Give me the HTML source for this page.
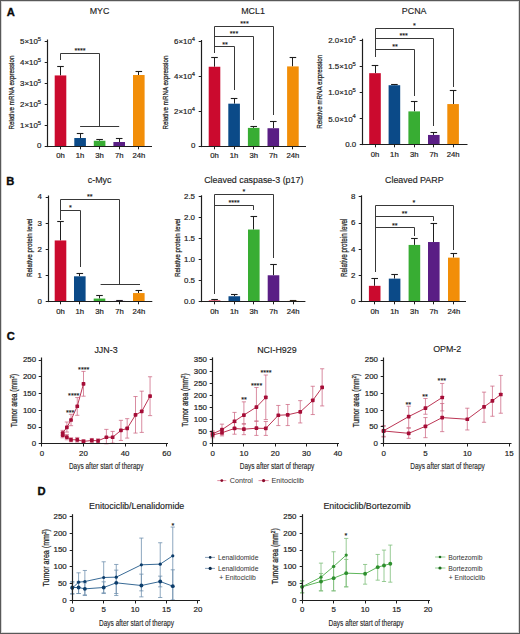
<!DOCTYPE html><html><head><meta charset="utf-8"><style>html,body{margin:0;padding:0;background:#fff;}svg{display:block;}</style></head><body>
<svg width="520" height="634" viewBox="0 0 520 634" font-family='"Liberation Sans", sans-serif'>
<rect x="0.00" y="0.00" width="520.00" height="634.00" fill="#ffffff"/>
<text x="6.70" y="15.80" font-size="11.2" text-anchor="start" fill="#0a0a0a" font-weight="bold"  stroke="#0a0a0a" stroke-width="0.35">A</text>
<text x="6.30" y="184.80" font-size="11.2" text-anchor="start" fill="#0a0a0a" font-weight="bold"  stroke="#0a0a0a" stroke-width="0.35">B</text>
<text x="6.80" y="339.80" font-size="11.2" text-anchor="start" fill="#0a0a0a" font-weight="bold"  stroke="#0a0a0a" stroke-width="0.35">C</text>
<text x="37.60" y="495.20" font-size="11.2" text-anchor="start" fill="#0a0a0a" font-weight="bold"  stroke="#0a0a0a" stroke-width="0.35">D</text>
<text x="99.50" y="14.30" font-size="8.9" text-anchor="middle" fill="#1e1e1e" font-weight="normal" stroke="#1e1e1e" stroke-width="0.15" >MYC</text>
<line x1="60.50" y1="66.20" x2="60.50" y2="75.44" stroke="#1e1e1e" stroke-width="1" />
<line x1="57.20" y1="66.50" x2="63.80" y2="66.50" stroke="#1e1e1e" stroke-width="1.1" />
<rect x="54.70" y="75.44" width="11.60" height="70.56" fill="#cb0a2e"/>
<line x1="80.50" y1="133.19" x2="80.50" y2="138.02" stroke="#1e1e1e" stroke-width="1" />
<line x1="76.80" y1="133.50" x2="83.40" y2="133.50" stroke="#1e1e1e" stroke-width="1.1" />
<rect x="74.30" y="138.02" width="11.60" height="7.98" fill="#0b4a88"/>
<line x1="99.50" y1="139.28" x2="99.50" y2="140.75" stroke="#1e1e1e" stroke-width="1" />
<line x1="96.30" y1="139.50" x2="102.90" y2="139.50" stroke="#1e1e1e" stroke-width="1.1" />
<rect x="93.80" y="140.75" width="11.60" height="5.25" fill="#38ad33"/>
<line x1="119.50" y1="138.23" x2="119.50" y2="142.01" stroke="#1e1e1e" stroke-width="1" />
<line x1="115.90" y1="138.50" x2="122.50" y2="138.50" stroke="#1e1e1e" stroke-width="1.1" />
<rect x="113.40" y="142.01" width="11.60" height="3.99" fill="#5a1e85"/>
<line x1="138.50" y1="71.66" x2="138.50" y2="75.02" stroke="#1e1e1e" stroke-width="1" />
<line x1="135.50" y1="71.50" x2="142.10" y2="71.50" stroke="#1e1e1e" stroke-width="1.1" />
<rect x="133.00" y="75.02" width="11.60" height="70.98" fill="#f28e08"/>
<line x1="47.50" y1="39.50" x2="47.50" y2="147.10" stroke="#1e1e1e" stroke-width="1.2" />
<line x1="46.90" y1="146.50" x2="152.00" y2="146.50" stroke="#1e1e1e" stroke-width="1.2" />
<line x1="44.70" y1="146.50" x2="47.50" y2="146.50" stroke="#1e1e1e" stroke-width="1" />
<text x="41.50" y="148.40" font-size="7.9" text-anchor="end" fill="#1e1e1e" font-weight="normal" stroke="#1e1e1e" stroke-width="0.2" >0</text>
<line x1="44.70" y1="125.50" x2="47.50" y2="125.50" stroke="#1e1e1e" stroke-width="1" />
<text x="41.10" y="127.80" font-size="7.9" text-anchor="end" fill="#1e1e1e" stroke="#1e1e1e" stroke-width="0.2">1×10<tspan font-size="5.8" dy="-3.1">5</tspan></text>
<line x1="44.70" y1="104.50" x2="47.50" y2="104.50" stroke="#1e1e1e" stroke-width="1" />
<text x="41.10" y="106.80" font-size="7.9" text-anchor="end" fill="#1e1e1e" stroke="#1e1e1e" stroke-width="0.2">2×10<tspan font-size="5.8" dy="-3.1">5</tspan></text>
<line x1="44.70" y1="83.50" x2="47.50" y2="83.50" stroke="#1e1e1e" stroke-width="1" />
<text x="41.10" y="85.80" font-size="7.9" text-anchor="end" fill="#1e1e1e" stroke="#1e1e1e" stroke-width="0.2">3×10<tspan font-size="5.8" dy="-3.1">5</tspan></text>
<line x1="44.70" y1="62.50" x2="47.50" y2="62.50" stroke="#1e1e1e" stroke-width="1" />
<text x="41.10" y="64.80" font-size="7.9" text-anchor="end" fill="#1e1e1e" stroke="#1e1e1e" stroke-width="0.2">4×10<tspan font-size="5.8" dy="-3.1">5</tspan></text>
<line x1="44.70" y1="41.50" x2="47.50" y2="41.50" stroke="#1e1e1e" stroke-width="1" />
<text x="41.10" y="43.80" font-size="7.9" text-anchor="end" fill="#1e1e1e" stroke="#1e1e1e" stroke-width="0.2">5×10<tspan font-size="5.8" dy="-3.1">5</tspan></text>
<line x1="60.50" y1="146.50" x2="60.50" y2="149.30" stroke="#1e1e1e" stroke-width="1" />
<text x="60.50" y="158.30" font-size="7.7" text-anchor="middle" fill="#1e1e1e" font-weight="normal" stroke="#1e1e1e" stroke-width="0.2" >0h</text>
<line x1="80.50" y1="146.50" x2="80.50" y2="149.30" stroke="#1e1e1e" stroke-width="1" />
<text x="80.10" y="158.30" font-size="7.7" text-anchor="middle" fill="#1e1e1e" font-weight="normal" stroke="#1e1e1e" stroke-width="0.2" >1h</text>
<line x1="99.50" y1="146.50" x2="99.50" y2="149.30" stroke="#1e1e1e" stroke-width="1" />
<text x="99.60" y="158.30" font-size="7.7" text-anchor="middle" fill="#1e1e1e" font-weight="normal" stroke="#1e1e1e" stroke-width="0.2" >3h</text>
<line x1="119.50" y1="146.50" x2="119.50" y2="149.30" stroke="#1e1e1e" stroke-width="1" />
<text x="119.20" y="158.30" font-size="7.7" text-anchor="middle" fill="#1e1e1e" font-weight="normal" stroke="#1e1e1e" stroke-width="0.2" >7h</text>
<line x1="138.50" y1="146.50" x2="138.50" y2="149.30" stroke="#1e1e1e" stroke-width="1" />
<text x="138.80" y="158.30" font-size="7.7" text-anchor="middle" fill="#1e1e1e" font-weight="normal" stroke="#1e1e1e" stroke-width="0.2" >24h</text>
<text transform="translate(14.40,92.50) rotate(-90)" x="0" y="0" font-size="8.1" text-anchor="middle" fill="#1e1e1e" stroke="#1e1e1e" stroke-width="0.25" textLength="73.8" lengthAdjust="spacingAndGlyphs">Relative mRNA expression</text>
<polyline points="60.50,59.50 60.50,53.50 99.50,53.50 99.50,126.50" fill="none" stroke="#383838" stroke-width="1.0" stroke-linejoin="miter" stroke-linecap="square"/>
<line x1="80.10" y1="126.50" x2="119.20" y2="126.50" stroke="#383838" stroke-width="1.0" />
<text x="80.00" y="53.00" font-size="7.2" text-anchor="middle" fill="#111" font-weight="normal"  stroke="#111" stroke-width="0.12">****</text>
<text x="253.00" y="14.30" font-size="8.9" text-anchor="middle" fill="#1e1e1e" font-weight="normal" stroke="#1e1e1e" stroke-width="0.15" >MCL1</text>
<line x1="214.50" y1="57.70" x2="214.50" y2="66.75" stroke="#1e1e1e" stroke-width="1" />
<line x1="211.20" y1="57.50" x2="217.80" y2="57.50" stroke="#1e1e1e" stroke-width="1.1" />
<rect x="208.70" y="66.75" width="11.60" height="79.25" fill="#cb0a2e"/>
<line x1="234.50" y1="98.45" x2="234.50" y2="103.68" stroke="#1e1e1e" stroke-width="1" />
<line x1="230.80" y1="98.50" x2="237.40" y2="98.50" stroke="#1e1e1e" stroke-width="1.1" />
<rect x="228.30" y="103.68" width="11.60" height="42.32" fill="#0b4a88"/>
<line x1="253.50" y1="126.49" x2="253.50" y2="127.89" stroke="#1e1e1e" stroke-width="1" />
<line x1="250.40" y1="126.50" x2="257.00" y2="126.50" stroke="#1e1e1e" stroke-width="1.1" />
<rect x="247.90" y="127.89" width="11.60" height="18.11" fill="#38ad33"/>
<line x1="273.50" y1="121.27" x2="273.50" y2="128.24" stroke="#1e1e1e" stroke-width="1" />
<line x1="270.00" y1="121.50" x2="276.60" y2="121.50" stroke="#1e1e1e" stroke-width="1.1" />
<rect x="267.50" y="128.24" width="11.60" height="17.77" fill="#5a1e85"/>
<line x1="292.50" y1="57.70" x2="292.50" y2="66.41" stroke="#1e1e1e" stroke-width="1" />
<line x1="289.60" y1="57.50" x2="296.20" y2="57.50" stroke="#1e1e1e" stroke-width="1.1" />
<rect x="287.10" y="66.41" width="11.60" height="79.59" fill="#f28e08"/>
<line x1="201.50" y1="40.00" x2="201.50" y2="147.10" stroke="#1e1e1e" stroke-width="1.2" />
<line x1="200.90" y1="146.50" x2="306.00" y2="146.50" stroke="#1e1e1e" stroke-width="1.2" />
<line x1="198.70" y1="146.50" x2="201.50" y2="146.50" stroke="#1e1e1e" stroke-width="1" />
<text x="195.50" y="148.40" font-size="7.9" text-anchor="end" fill="#1e1e1e" font-weight="normal" stroke="#1e1e1e" stroke-width="0.2" >0</text>
<line x1="198.70" y1="111.50" x2="201.50" y2="111.50" stroke="#1e1e1e" stroke-width="1" />
<text x="195.10" y="113.97" font-size="7.9" text-anchor="end" fill="#1e1e1e" stroke="#1e1e1e" stroke-width="0.2">2×10<tspan font-size="5.8" dy="-3.1">4</tspan></text>
<line x1="198.70" y1="76.50" x2="201.50" y2="76.50" stroke="#1e1e1e" stroke-width="1" />
<text x="195.10" y="79.13" font-size="7.9" text-anchor="end" fill="#1e1e1e" stroke="#1e1e1e" stroke-width="0.2">4×10<tspan font-size="5.8" dy="-3.1">4</tspan></text>
<line x1="198.70" y1="41.50" x2="201.50" y2="41.50" stroke="#1e1e1e" stroke-width="1" />
<text x="195.10" y="44.30" font-size="7.9" text-anchor="end" fill="#1e1e1e" stroke="#1e1e1e" stroke-width="0.2">6×10<tspan font-size="5.8" dy="-3.1">4</tspan></text>
<line x1="214.50" y1="146.50" x2="214.50" y2="149.30" stroke="#1e1e1e" stroke-width="1" />
<text x="214.50" y="158.30" font-size="7.7" text-anchor="middle" fill="#1e1e1e" font-weight="normal" stroke="#1e1e1e" stroke-width="0.2" >0h</text>
<line x1="234.50" y1="146.50" x2="234.50" y2="149.30" stroke="#1e1e1e" stroke-width="1" />
<text x="234.10" y="158.30" font-size="7.7" text-anchor="middle" fill="#1e1e1e" font-weight="normal" stroke="#1e1e1e" stroke-width="0.2" >1h</text>
<line x1="253.50" y1="146.50" x2="253.50" y2="149.30" stroke="#1e1e1e" stroke-width="1" />
<text x="253.70" y="158.30" font-size="7.7" text-anchor="middle" fill="#1e1e1e" font-weight="normal" stroke="#1e1e1e" stroke-width="0.2" >3h</text>
<line x1="273.50" y1="146.50" x2="273.50" y2="149.30" stroke="#1e1e1e" stroke-width="1" />
<text x="273.30" y="158.30" font-size="7.7" text-anchor="middle" fill="#1e1e1e" font-weight="normal" stroke="#1e1e1e" stroke-width="0.2" >7h</text>
<line x1="292.50" y1="146.50" x2="292.50" y2="149.30" stroke="#1e1e1e" stroke-width="1" />
<text x="292.90" y="158.30" font-size="7.7" text-anchor="middle" fill="#1e1e1e" font-weight="normal" stroke="#1e1e1e" stroke-width="0.2" >24h</text>
<text transform="translate(168.10,92.50) rotate(-90)" x="0" y="0" font-size="8.1" text-anchor="middle" fill="#1e1e1e" stroke="#1e1e1e" stroke-width="0.25" textLength="73.8" lengthAdjust="spacingAndGlyphs">Relative mRNA expression</text>
<polyline points="214.50,52.50 214.50,26.50 273.50,26.50 273.50,114.50" fill="none" stroke="#383838" stroke-width="1.0" stroke-linejoin="miter" stroke-linecap="square"/>
<polyline points="214.50,36.50 253.50,36.50 253.50,119.50" fill="none" stroke="#383838" stroke-width="1.0" stroke-linejoin="miter" stroke-linecap="square"/>
<polyline points="214.50,46.50 234.50,46.50 234.50,89.50" fill="none" stroke="#383838" stroke-width="1.0" stroke-linejoin="miter" stroke-linecap="square"/>
<text x="225.00" y="46.50" font-size="7.2" text-anchor="middle" fill="#111" font-weight="normal"  stroke="#111" stroke-width="0.12">**</text>
<text x="234.00" y="36.00" font-size="7.2" text-anchor="middle" fill="#111" font-weight="normal"  stroke="#111" stroke-width="0.12">***</text>
<text x="244.50" y="26.20" font-size="7.2" text-anchor="middle" fill="#111" font-weight="normal"  stroke="#111" stroke-width="0.12">***</text>
<text x="414.20" y="14.30" font-size="8.9" text-anchor="middle" fill="#1e1e1e" font-weight="normal" stroke="#1e1e1e" stroke-width="0.15" >PCNA</text>
<line x1="375.50" y1="65.85" x2="375.50" y2="73.18" stroke="#1e1e1e" stroke-width="1" />
<line x1="371.70" y1="65.50" x2="378.30" y2="65.50" stroke="#1e1e1e" stroke-width="1.1" />
<rect x="369.20" y="73.18" width="11.60" height="71.72" fill="#cb0a2e"/>
<line x1="394.50" y1="84.70" x2="394.50" y2="85.22" stroke="#1e1e1e" stroke-width="1" />
<line x1="391.10" y1="84.50" x2="397.70" y2="84.50" stroke="#1e1e1e" stroke-width="1.1" />
<rect x="388.60" y="85.22" width="11.60" height="59.68" fill="#0b4a88"/>
<line x1="414.50" y1="101.45" x2="414.50" y2="111.40" stroke="#1e1e1e" stroke-width="1" />
<line x1="410.90" y1="101.50" x2="417.50" y2="101.50" stroke="#1e1e1e" stroke-width="1.1" />
<rect x="408.40" y="111.40" width="11.60" height="33.50" fill="#38ad33"/>
<line x1="433.50" y1="132.86" x2="433.50" y2="134.95" stroke="#1e1e1e" stroke-width="1" />
<line x1="430.50" y1="132.50" x2="437.10" y2="132.50" stroke="#1e1e1e" stroke-width="1.1" />
<rect x="428.00" y="134.95" width="11.60" height="9.95" fill="#5a1e85"/>
<line x1="453.50" y1="90.98" x2="453.50" y2="104.07" stroke="#1e1e1e" stroke-width="1" />
<line x1="449.80" y1="90.50" x2="456.40" y2="90.50" stroke="#1e1e1e" stroke-width="1.1" />
<rect x="447.30" y="104.07" width="11.60" height="40.83" fill="#f28e08"/>
<line x1="362.50" y1="38.70" x2="362.50" y2="145.10" stroke="#1e1e1e" stroke-width="1.2" />
<line x1="361.90" y1="144.50" x2="467.50" y2="144.50" stroke="#1e1e1e" stroke-width="1.2" />
<line x1="359.70" y1="144.50" x2="362.50" y2="144.50" stroke="#1e1e1e" stroke-width="1" />
<text x="356.20" y="147.30" font-size="7.9" text-anchor="end" fill="#1e1e1e" font-weight="normal" stroke="#1e1e1e" stroke-width="0.2" >0.0</text>
<line x1="359.70" y1="118.50" x2="362.50" y2="118.50" stroke="#1e1e1e" stroke-width="1" />
<text x="355.80" y="121.53" font-size="7.9" text-anchor="end" fill="#1e1e1e" stroke="#1e1e1e" stroke-width="0.2">5.0×10<tspan font-size="5.8" dy="-3.1">4</tspan></text>
<line x1="359.70" y1="92.50" x2="362.50" y2="92.50" stroke="#1e1e1e" stroke-width="1" />
<text x="355.80" y="95.35" font-size="7.9" text-anchor="end" fill="#1e1e1e" stroke="#1e1e1e" stroke-width="0.2">1.0×10<tspan font-size="5.8" dy="-3.1">5</tspan></text>
<line x1="359.70" y1="66.50" x2="362.50" y2="66.50" stroke="#1e1e1e" stroke-width="1" />
<text x="355.80" y="69.18" font-size="7.9" text-anchor="end" fill="#1e1e1e" stroke="#1e1e1e" stroke-width="0.2">1.5×10<tspan font-size="5.8" dy="-3.1">5</tspan></text>
<line x1="359.70" y1="40.50" x2="362.50" y2="40.50" stroke="#1e1e1e" stroke-width="1" />
<text x="355.80" y="43.00" font-size="7.9" text-anchor="end" fill="#1e1e1e" stroke="#1e1e1e" stroke-width="0.2">2.0×10<tspan font-size="5.8" dy="-3.1">5</tspan></text>
<line x1="375.50" y1="144.50" x2="375.50" y2="147.30" stroke="#1e1e1e" stroke-width="1" />
<text x="375.00" y="157.20" font-size="7.7" text-anchor="middle" fill="#1e1e1e" font-weight="normal" stroke="#1e1e1e" stroke-width="0.2" >0h</text>
<line x1="394.50" y1="144.50" x2="394.50" y2="147.30" stroke="#1e1e1e" stroke-width="1" />
<text x="394.40" y="157.20" font-size="7.7" text-anchor="middle" fill="#1e1e1e" font-weight="normal" stroke="#1e1e1e" stroke-width="0.2" >1h</text>
<line x1="414.50" y1="144.50" x2="414.50" y2="147.30" stroke="#1e1e1e" stroke-width="1" />
<text x="414.20" y="157.20" font-size="7.7" text-anchor="middle" fill="#1e1e1e" font-weight="normal" stroke="#1e1e1e" stroke-width="0.2" >3h</text>
<line x1="433.50" y1="144.50" x2="433.50" y2="147.30" stroke="#1e1e1e" stroke-width="1" />
<text x="433.80" y="157.20" font-size="7.7" text-anchor="middle" fill="#1e1e1e" font-weight="normal" stroke="#1e1e1e" stroke-width="0.2" >7h</text>
<line x1="453.50" y1="144.50" x2="453.50" y2="147.30" stroke="#1e1e1e" stroke-width="1" />
<text x="453.10" y="157.20" font-size="7.7" text-anchor="middle" fill="#1e1e1e" font-weight="normal" stroke="#1e1e1e" stroke-width="0.2" >24h</text>
<text transform="translate(322.20,91.80) rotate(-90)" x="0" y="0" font-size="8.1" text-anchor="middle" fill="#1e1e1e" stroke="#1e1e1e" stroke-width="0.25" textLength="74" lengthAdjust="spacingAndGlyphs">Relative mRNA expression</text>
<polyline points="375.50,56.50 375.50,28.50 453.50,28.50 453.50,86.50" fill="none" stroke="#383838" stroke-width="1.0" stroke-linejoin="miter" stroke-linecap="square"/>
<polyline points="375.50,38.50 433.50,38.50 433.50,125.50" fill="none" stroke="#383838" stroke-width="1.0" stroke-linejoin="miter" stroke-linecap="square"/>
<polyline points="375.50,49.50 414.50,49.50 414.50,95.50" fill="none" stroke="#383838" stroke-width="1.0" stroke-linejoin="miter" stroke-linecap="square"/>
<text x="395.00" y="49.00" font-size="7.2" text-anchor="middle" fill="#111" font-weight="normal"  stroke="#111" stroke-width="0.12">**</text>
<text x="403.70" y="37.90" font-size="7.2" text-anchor="middle" fill="#111" font-weight="normal"  stroke="#111" stroke-width="0.12">***</text>
<text x="414.50" y="27.70" font-size="7.2" text-anchor="middle" fill="#111" font-weight="normal"  stroke="#111" stroke-width="0.12">*</text>
<text x="99.60" y="183.00" font-size="8.9" text-anchor="middle" fill="#1e1e1e" font-weight="normal" stroke="#1e1e1e" stroke-width="0.15" >c-Myc</text>
<line x1="60.50" y1="221.60" x2="60.50" y2="240.45" stroke="#1e1e1e" stroke-width="1" />
<line x1="57.20" y1="221.50" x2="63.80" y2="221.50" stroke="#1e1e1e" stroke-width="1.1" />
<rect x="54.70" y="240.45" width="11.60" height="61.25" fill="#cb0a2e"/>
<line x1="79.50" y1="273.43" x2="79.50" y2="276.31" stroke="#1e1e1e" stroke-width="1" />
<line x1="76.50" y1="273.50" x2="83.10" y2="273.50" stroke="#1e1e1e" stroke-width="1.1" />
<rect x="74.00" y="276.31" width="11.60" height="25.39" fill="#0b4a88"/>
<line x1="99.50" y1="295.16" x2="99.50" y2="298.56" stroke="#1e1e1e" stroke-width="1" />
<line x1="96.20" y1="295.50" x2="102.80" y2="295.50" stroke="#1e1e1e" stroke-width="1.1" />
<rect x="93.70" y="298.56" width="11.60" height="3.14" fill="#38ad33"/>
<line x1="119.50" y1="300.39" x2="119.50" y2="301.18" stroke="#1e1e1e" stroke-width="1" />
<line x1="116.20" y1="300.50" x2="122.80" y2="300.50" stroke="#1e1e1e" stroke-width="1.1" />
<rect x="113.70" y="300.90" width="11.60" height="0.80" fill="#5a1e85"/>
<line x1="138.50" y1="290.71" x2="138.50" y2="293.06" stroke="#1e1e1e" stroke-width="1" />
<line x1="135.50" y1="290.50" x2="142.10" y2="290.50" stroke="#1e1e1e" stroke-width="1.1" />
<rect x="133.00" y="293.06" width="11.60" height="8.64" fill="#f28e08"/>
<line x1="48.50" y1="195.50" x2="48.50" y2="302.10" stroke="#1e1e1e" stroke-width="1.2" />
<line x1="47.90" y1="301.50" x2="152.30" y2="301.50" stroke="#1e1e1e" stroke-width="1.2" />
<line x1="45.70" y1="301.50" x2="48.50" y2="301.50" stroke="#1e1e1e" stroke-width="1" />
<text x="42.00" y="304.10" font-size="7.9" text-anchor="end" fill="#1e1e1e" font-weight="normal" stroke="#1e1e1e" stroke-width="0.2" >0</text>
<line x1="45.70" y1="275.50" x2="48.50" y2="275.50" stroke="#1e1e1e" stroke-width="1" />
<text x="42.00" y="277.92" font-size="7.9" text-anchor="end" fill="#1e1e1e" font-weight="normal" stroke="#1e1e1e" stroke-width="0.2" >1</text>
<line x1="45.70" y1="249.50" x2="48.50" y2="249.50" stroke="#1e1e1e" stroke-width="1" />
<text x="42.00" y="251.75" font-size="7.9" text-anchor="end" fill="#1e1e1e" font-weight="normal" stroke="#1e1e1e" stroke-width="0.2" >2</text>
<line x1="45.70" y1="223.50" x2="48.50" y2="223.50" stroke="#1e1e1e" stroke-width="1" />
<text x="42.00" y="225.58" font-size="7.9" text-anchor="end" fill="#1e1e1e" font-weight="normal" stroke="#1e1e1e" stroke-width="0.2" >3</text>
<line x1="45.70" y1="197.50" x2="48.50" y2="197.50" stroke="#1e1e1e" stroke-width="1" />
<text x="42.00" y="199.40" font-size="7.9" text-anchor="end" fill="#1e1e1e" font-weight="normal" stroke="#1e1e1e" stroke-width="0.2" >4</text>
<line x1="60.50" y1="301.50" x2="60.50" y2="304.30" stroke="#1e1e1e" stroke-width="1" />
<text x="60.50" y="314.00" font-size="7.7" text-anchor="middle" fill="#1e1e1e" font-weight="normal" stroke="#1e1e1e" stroke-width="0.2" >0h</text>
<line x1="79.50" y1="301.50" x2="79.50" y2="304.30" stroke="#1e1e1e" stroke-width="1" />
<text x="79.80" y="314.00" font-size="7.7" text-anchor="middle" fill="#1e1e1e" font-weight="normal" stroke="#1e1e1e" stroke-width="0.2" >1h</text>
<line x1="99.50" y1="301.50" x2="99.50" y2="304.30" stroke="#1e1e1e" stroke-width="1" />
<text x="99.50" y="314.00" font-size="7.7" text-anchor="middle" fill="#1e1e1e" font-weight="normal" stroke="#1e1e1e" stroke-width="0.2" >3h</text>
<line x1="119.50" y1="301.50" x2="119.50" y2="304.30" stroke="#1e1e1e" stroke-width="1" />
<text x="119.50" y="314.00" font-size="7.7" text-anchor="middle" fill="#1e1e1e" font-weight="normal" stroke="#1e1e1e" stroke-width="0.2" >7h</text>
<line x1="138.50" y1="301.50" x2="138.50" y2="304.30" stroke="#1e1e1e" stroke-width="1" />
<text x="138.80" y="314.00" font-size="7.7" text-anchor="middle" fill="#1e1e1e" font-weight="normal" stroke="#1e1e1e" stroke-width="0.2" >24h</text>
<text transform="translate(32.20,247.80) rotate(-90)" x="0" y="0" font-size="7.9" text-anchor="middle" fill="#1e1e1e" stroke="#1e1e1e" stroke-width="0.25" textLength="58.5" lengthAdjust="spacingAndGlyphs">Relative protein level</text>
<polyline points="60.50,219.50 60.50,199.50 119.50,199.50 119.50,284.50" fill="none" stroke="#383838" stroke-width="1.0" stroke-linejoin="miter" stroke-linecap="square"/>
<line x1="100.60" y1="284.50" x2="140.00" y2="284.50" stroke="#383838" stroke-width="1.0" />
<polyline points="60.50,210.50 80.50,210.50 80.50,266.50" fill="none" stroke="#383838" stroke-width="1.0" stroke-linejoin="miter" stroke-linecap="square"/>
<text x="89.80" y="199.00" font-size="7.2" text-anchor="middle" fill="#111" font-weight="normal"  stroke="#111" stroke-width="0.12">**</text>
<text x="70.50" y="210.30" font-size="7.2" text-anchor="middle" fill="#111" font-weight="normal"  stroke="#111" stroke-width="0.12">*</text>
<text x="253.80" y="183.10" font-size="8.9" text-anchor="middle" fill="#1e1e1e" font-weight="normal" stroke="#1e1e1e" stroke-width="0.15" >Cleaved caspase-3 (p17)</text>
<line x1="214.50" y1="299.60" x2="214.50" y2="300.44" stroke="#1e1e1e" stroke-width="1" />
<line x1="211.30" y1="299.50" x2="217.90" y2="299.50" stroke="#1e1e1e" stroke-width="1.1" />
<rect x="208.80" y="300.44" width="11.60" height="1.26" fill="#cb0a2e"/>
<line x1="234.50" y1="294.57" x2="234.50" y2="296.25" stroke="#1e1e1e" stroke-width="1" />
<line x1="231.00" y1="294.50" x2="237.60" y2="294.50" stroke="#1e1e1e" stroke-width="1.1" />
<rect x="228.50" y="296.25" width="11.60" height="5.45" fill="#0b4a88"/>
<line x1="253.50" y1="216.52" x2="253.50" y2="229.53" stroke="#1e1e1e" stroke-width="1" />
<line x1="250.50" y1="216.50" x2="257.10" y2="216.50" stroke="#1e1e1e" stroke-width="1.1" />
<rect x="248.00" y="229.53" width="11.60" height="72.17" fill="#38ad33"/>
<line x1="273.50" y1="264.78" x2="273.50" y2="275.27" stroke="#1e1e1e" stroke-width="1" />
<line x1="270.20" y1="264.50" x2="276.80" y2="264.50" stroke="#1e1e1e" stroke-width="1.1" />
<rect x="267.70" y="275.27" width="11.60" height="26.43" fill="#5a1e85"/>
<line x1="293.50" y1="300.86" x2="293.50" y2="301.28" stroke="#1e1e1e" stroke-width="1" />
<line x1="289.80" y1="300.50" x2="296.40" y2="300.50" stroke="#1e1e1e" stroke-width="1.1" />
<rect x="287.30" y="300.90" width="11.60" height="0.80" fill="#f28e08"/>
<line x1="201.50" y1="195.30" x2="201.50" y2="302.10" stroke="#1e1e1e" stroke-width="1.2" />
<line x1="200.90" y1="301.50" x2="305.40" y2="301.50" stroke="#1e1e1e" stroke-width="1.2" />
<line x1="198.70" y1="301.50" x2="201.50" y2="301.50" stroke="#1e1e1e" stroke-width="1" />
<text x="195.00" y="304.10" font-size="7.9" text-anchor="end" fill="#1e1e1e" font-weight="normal" stroke="#1e1e1e" stroke-width="0.2" >0.0</text>
<line x1="198.70" y1="280.50" x2="201.50" y2="280.50" stroke="#1e1e1e" stroke-width="1" />
<text x="195.00" y="283.12" font-size="7.9" text-anchor="end" fill="#1e1e1e" font-weight="normal" stroke="#1e1e1e" stroke-width="0.2" >0.5</text>
<line x1="198.70" y1="259.50" x2="201.50" y2="259.50" stroke="#1e1e1e" stroke-width="1" />
<text x="195.00" y="262.14" font-size="7.9" text-anchor="end" fill="#1e1e1e" font-weight="normal" stroke="#1e1e1e" stroke-width="0.2" >1.0</text>
<line x1="198.70" y1="238.50" x2="201.50" y2="238.50" stroke="#1e1e1e" stroke-width="1" />
<text x="195.00" y="241.16" font-size="7.9" text-anchor="end" fill="#1e1e1e" font-weight="normal" stroke="#1e1e1e" stroke-width="0.2" >1.5</text>
<line x1="198.70" y1="217.50" x2="201.50" y2="217.50" stroke="#1e1e1e" stroke-width="1" />
<text x="195.00" y="220.18" font-size="7.9" text-anchor="end" fill="#1e1e1e" font-weight="normal" stroke="#1e1e1e" stroke-width="0.2" >2.0</text>
<line x1="198.70" y1="196.50" x2="201.50" y2="196.50" stroke="#1e1e1e" stroke-width="1" />
<text x="195.00" y="199.20" font-size="7.9" text-anchor="end" fill="#1e1e1e" font-weight="normal" stroke="#1e1e1e" stroke-width="0.2" >2.5</text>
<line x1="214.50" y1="301.50" x2="214.50" y2="304.30" stroke="#1e1e1e" stroke-width="1" />
<text x="214.60" y="314.00" font-size="7.7" text-anchor="middle" fill="#1e1e1e" font-weight="normal" stroke="#1e1e1e" stroke-width="0.2" >0h</text>
<line x1="234.50" y1="301.50" x2="234.50" y2="304.30" stroke="#1e1e1e" stroke-width="1" />
<text x="234.30" y="314.00" font-size="7.7" text-anchor="middle" fill="#1e1e1e" font-weight="normal" stroke="#1e1e1e" stroke-width="0.2" >1h</text>
<line x1="253.50" y1="301.50" x2="253.50" y2="304.30" stroke="#1e1e1e" stroke-width="1" />
<text x="253.80" y="314.00" font-size="7.7" text-anchor="middle" fill="#1e1e1e" font-weight="normal" stroke="#1e1e1e" stroke-width="0.2" >3h</text>
<line x1="273.50" y1="301.50" x2="273.50" y2="304.30" stroke="#1e1e1e" stroke-width="1" />
<text x="273.50" y="314.00" font-size="7.7" text-anchor="middle" fill="#1e1e1e" font-weight="normal" stroke="#1e1e1e" stroke-width="0.2" >7h</text>
<line x1="293.50" y1="301.50" x2="293.50" y2="304.30" stroke="#1e1e1e" stroke-width="1" />
<text x="293.10" y="314.00" font-size="7.7" text-anchor="middle" fill="#1e1e1e" font-weight="normal" stroke="#1e1e1e" stroke-width="0.2" >24h</text>
<text transform="translate(180.00,247.80) rotate(-90)" x="0" y="0" font-size="7.9" text-anchor="middle" fill="#1e1e1e" stroke="#1e1e1e" stroke-width="0.25" textLength="58.5" lengthAdjust="spacingAndGlyphs">Relative protein level</text>
<polyline points="214.50,293.50 214.50,194.50 273.50,194.50 273.50,257.50" fill="none" stroke="#383838" stroke-width="1.0" stroke-linejoin="miter" stroke-linecap="square"/>
<polyline points="214.50,205.50 253.50,205.50 253.50,209.50" fill="none" stroke="#383838" stroke-width="1.0" stroke-linejoin="miter" stroke-linecap="square"/>
<text x="243.80" y="194.30" font-size="7.2" text-anchor="middle" fill="#111" font-weight="normal"  stroke="#111" stroke-width="0.12">*</text>
<text x="234.00" y="204.60" font-size="7.2" text-anchor="middle" fill="#111" font-weight="normal"  stroke="#111" stroke-width="0.12">****</text>
<text x="414.30" y="183.10" font-size="8.9" text-anchor="middle" fill="#1e1e1e" font-weight="normal" stroke="#1e1e1e" stroke-width="0.15" >Cleaved PARP</text>
<line x1="374.50" y1="278.49" x2="374.50" y2="285.83" stroke="#1e1e1e" stroke-width="1" />
<line x1="371.40" y1="278.50" x2="378.00" y2="278.50" stroke="#1e1e1e" stroke-width="1.1" />
<rect x="368.90" y="285.83" width="11.60" height="15.87" fill="#cb0a2e"/>
<line x1="394.50" y1="274.03" x2="394.50" y2="278.62" stroke="#1e1e1e" stroke-width="1" />
<line x1="391.30" y1="274.50" x2="397.90" y2="274.50" stroke="#1e1e1e" stroke-width="1.1" />
<rect x="388.80" y="278.62" width="11.60" height="23.08" fill="#0b4a88"/>
<line x1="414.50" y1="238.37" x2="414.50" y2="244.92" stroke="#1e1e1e" stroke-width="1" />
<line x1="411.10" y1="238.50" x2="417.70" y2="238.50" stroke="#1e1e1e" stroke-width="1.1" />
<rect x="408.60" y="244.92" width="11.60" height="56.78" fill="#38ad33"/>
<line x1="433.50" y1="223.55" x2="433.50" y2="242.04" stroke="#1e1e1e" stroke-width="1" />
<line x1="430.50" y1="223.50" x2="437.10" y2="223.50" stroke="#1e1e1e" stroke-width="1.1" />
<rect x="428.00" y="242.04" width="11.60" height="59.66" fill="#5a1e85"/>
<line x1="453.50" y1="253.84" x2="453.50" y2="257.64" stroke="#1e1e1e" stroke-width="1" />
<line x1="450.50" y1="253.50" x2="457.10" y2="253.50" stroke="#1e1e1e" stroke-width="1.1" />
<rect x="448.00" y="257.64" width="11.60" height="44.06" fill="#f28e08"/>
<line x1="361.50" y1="195.30" x2="361.50" y2="302.10" stroke="#1e1e1e" stroke-width="1.2" />
<line x1="360.90" y1="301.50" x2="466.00" y2="301.50" stroke="#1e1e1e" stroke-width="1.2" />
<line x1="358.70" y1="301.50" x2="361.50" y2="301.50" stroke="#1e1e1e" stroke-width="1" />
<text x="355.50" y="304.10" font-size="7.9" text-anchor="end" fill="#1e1e1e" font-weight="normal" stroke="#1e1e1e" stroke-width="0.2" >0</text>
<line x1="358.70" y1="275.50" x2="361.50" y2="275.50" stroke="#1e1e1e" stroke-width="1" />
<text x="355.50" y="277.88" font-size="7.9" text-anchor="end" fill="#1e1e1e" font-weight="normal" stroke="#1e1e1e" stroke-width="0.2" >2</text>
<line x1="358.70" y1="249.50" x2="361.50" y2="249.50" stroke="#1e1e1e" stroke-width="1" />
<text x="355.50" y="251.65" font-size="7.9" text-anchor="end" fill="#1e1e1e" font-weight="normal" stroke="#1e1e1e" stroke-width="0.2" >4</text>
<line x1="358.70" y1="223.50" x2="361.50" y2="223.50" stroke="#1e1e1e" stroke-width="1" />
<text x="355.50" y="225.43" font-size="7.9" text-anchor="end" fill="#1e1e1e" font-weight="normal" stroke="#1e1e1e" stroke-width="0.2" >6</text>
<line x1="358.70" y1="196.50" x2="361.50" y2="196.50" stroke="#1e1e1e" stroke-width="1" />
<text x="355.50" y="199.20" font-size="7.9" text-anchor="end" fill="#1e1e1e" font-weight="normal" stroke="#1e1e1e" stroke-width="0.2" >8</text>
<line x1="374.50" y1="301.50" x2="374.50" y2="304.30" stroke="#1e1e1e" stroke-width="1" />
<text x="374.70" y="314.00" font-size="7.7" text-anchor="middle" fill="#1e1e1e" font-weight="normal" stroke="#1e1e1e" stroke-width="0.2" >0h</text>
<line x1="394.50" y1="301.50" x2="394.50" y2="304.30" stroke="#1e1e1e" stroke-width="1" />
<text x="394.60" y="314.00" font-size="7.7" text-anchor="middle" fill="#1e1e1e" font-weight="normal" stroke="#1e1e1e" stroke-width="0.2" >1h</text>
<line x1="414.50" y1="301.50" x2="414.50" y2="304.30" stroke="#1e1e1e" stroke-width="1" />
<text x="414.40" y="314.00" font-size="7.7" text-anchor="middle" fill="#1e1e1e" font-weight="normal" stroke="#1e1e1e" stroke-width="0.2" >3h</text>
<line x1="433.50" y1="301.50" x2="433.50" y2="304.30" stroke="#1e1e1e" stroke-width="1" />
<text x="433.80" y="314.00" font-size="7.7" text-anchor="middle" fill="#1e1e1e" font-weight="normal" stroke="#1e1e1e" stroke-width="0.2" >7h</text>
<line x1="453.50" y1="301.50" x2="453.50" y2="304.30" stroke="#1e1e1e" stroke-width="1" />
<text x="453.80" y="314.00" font-size="7.7" text-anchor="middle" fill="#1e1e1e" font-weight="normal" stroke="#1e1e1e" stroke-width="0.2" >24h</text>
<text transform="translate(347.00,247.80) rotate(-90)" x="0" y="0" font-size="8.2" text-anchor="middle" fill="#1e1e1e" stroke="#1e1e1e" stroke-width="0.25" textLength="58.5" lengthAdjust="spacingAndGlyphs">Relative protein level</text>
<polyline points="375.50,271.50 375.50,205.50 453.50,205.50 453.50,249.50" fill="none" stroke="#383838" stroke-width="1.0" stroke-linejoin="miter" stroke-linecap="square"/>
<polyline points="375.50,216.50 433.50,216.50 433.50,220.50" fill="none" stroke="#383838" stroke-width="1.0" stroke-linejoin="miter" stroke-linecap="square"/>
<polyline points="375.50,227.50 414.50,227.50 414.50,235.50" fill="none" stroke="#383838" stroke-width="1.0" stroke-linejoin="miter" stroke-linecap="square"/>
<text x="413.80" y="205.40" font-size="7.2" text-anchor="middle" fill="#111" font-weight="normal"  stroke="#111" stroke-width="0.12">*</text>
<text x="404.60" y="216.40" font-size="7.2" text-anchor="middle" fill="#111" font-weight="normal"  stroke="#111" stroke-width="0.12">**</text>
<text x="394.80" y="227.50" font-size="7.2" text-anchor="middle" fill="#111" font-weight="normal"  stroke="#111" stroke-width="0.12">**</text>
<text x="106.00" y="352.50" font-size="8.9" text-anchor="middle" fill="#1e1e1e" font-weight="normal" stroke="#1e1e1e" stroke-width="0.15" >JJN-3</text>
<line x1="62.70" y1="430.39" x2="62.70" y2="435.76" stroke="#cc6682" stroke-width="0.75" />
<line x1="60.60" y1="430.39" x2="64.80" y2="430.39" stroke="#cc6682" stroke-width="0.75" />
<line x1="60.60" y1="435.76" x2="64.80" y2="435.76" stroke="#cc6682" stroke-width="0.75" />
<line x1="66.86" y1="422.01" x2="66.86" y2="432.07" stroke="#cc6682" stroke-width="0.75" />
<line x1="64.76" y1="422.01" x2="68.96" y2="422.01" stroke="#cc6682" stroke-width="0.75" />
<line x1="64.76" y1="432.07" x2="68.96" y2="432.07" stroke="#cc6682" stroke-width="0.75" />
<line x1="71.02" y1="414.30" x2="71.02" y2="425.70" stroke="#cc6682" stroke-width="0.75" />
<line x1="68.92" y1="414.30" x2="73.12" y2="414.30" stroke="#cc6682" stroke-width="0.75" />
<line x1="68.92" y1="425.70" x2="73.12" y2="425.70" stroke="#cc6682" stroke-width="0.75" />
<line x1="77.26" y1="397.54" x2="77.26" y2="415.31" stroke="#cc6682" stroke-width="0.75" />
<line x1="75.16" y1="397.54" x2="79.36" y2="397.54" stroke="#cc6682" stroke-width="0.75" />
<line x1="75.16" y1="415.31" x2="79.36" y2="415.31" stroke="#cc6682" stroke-width="0.75" />
<line x1="83.50" y1="371.40" x2="83.50" y2="396.20" stroke="#cc6682" stroke-width="0.75" />
<line x1="81.40" y1="371.40" x2="85.60" y2="371.40" stroke="#cc6682" stroke-width="0.75" />
<line x1="81.40" y1="396.20" x2="85.60" y2="396.20" stroke="#cc6682" stroke-width="0.75" />
<line x1="62.70" y1="432.40" x2="62.70" y2="437.77" stroke="#cc6682" stroke-width="0.75" />
<line x1="60.60" y1="432.40" x2="64.80" y2="432.40" stroke="#cc6682" stroke-width="0.75" />
<line x1="60.60" y1="437.77" x2="64.80" y2="437.77" stroke="#cc6682" stroke-width="0.75" />
<line x1="66.86" y1="434.41" x2="66.86" y2="439.78" stroke="#cc6682" stroke-width="0.75" />
<line x1="64.76" y1="434.41" x2="68.96" y2="434.41" stroke="#cc6682" stroke-width="0.75" />
<line x1="64.76" y1="439.78" x2="68.96" y2="439.78" stroke="#cc6682" stroke-width="0.75" />
<line x1="71.02" y1="437.77" x2="71.02" y2="441.79" stroke="#cc6682" stroke-width="0.75" />
<line x1="68.92" y1="437.77" x2="73.12" y2="437.77" stroke="#cc6682" stroke-width="0.75" />
<line x1="68.92" y1="441.79" x2="73.12" y2="441.79" stroke="#cc6682" stroke-width="0.75" />
<line x1="77.26" y1="437.43" x2="77.26" y2="442.12" stroke="#cc6682" stroke-width="0.75" />
<line x1="75.16" y1="437.43" x2="79.36" y2="437.43" stroke="#cc6682" stroke-width="0.75" />
<line x1="75.16" y1="442.12" x2="79.36" y2="442.12" stroke="#cc6682" stroke-width="0.75" />
<line x1="83.50" y1="439.78" x2="83.50" y2="443.13" stroke="#cc6682" stroke-width="0.75" />
<line x1="81.40" y1="439.78" x2="85.60" y2="439.78" stroke="#cc6682" stroke-width="0.75" />
<line x1="81.40" y1="443.13" x2="85.60" y2="443.13" stroke="#cc6682" stroke-width="0.75" />
<line x1="91.82" y1="438.44" x2="91.82" y2="442.46" stroke="#cc6682" stroke-width="0.75" />
<line x1="89.72" y1="438.44" x2="93.92" y2="438.44" stroke="#cc6682" stroke-width="0.75" />
<line x1="89.72" y1="442.46" x2="93.92" y2="442.46" stroke="#cc6682" stroke-width="0.75" />
<line x1="98.06" y1="438.77" x2="98.06" y2="442.79" stroke="#cc6682" stroke-width="0.75" />
<line x1="95.96" y1="438.77" x2="100.16" y2="438.77" stroke="#cc6682" stroke-width="0.75" />
<line x1="95.96" y1="442.79" x2="100.16" y2="442.79" stroke="#cc6682" stroke-width="0.75" />
<line x1="106.38" y1="429.39" x2="106.38" y2="443.80" stroke="#cc6682" stroke-width="0.75" />
<line x1="104.28" y1="429.39" x2="108.48" y2="429.39" stroke="#cc6682" stroke-width="0.75" />
<line x1="104.28" y1="443.80" x2="108.48" y2="443.80" stroke="#cc6682" stroke-width="0.75" />
<line x1="112.62" y1="431.40" x2="112.62" y2="443.13" stroke="#cc6682" stroke-width="0.75" />
<line x1="110.52" y1="431.40" x2="114.72" y2="431.40" stroke="#cc6682" stroke-width="0.75" />
<line x1="110.52" y1="443.13" x2="114.72" y2="443.13" stroke="#cc6682" stroke-width="0.75" />
<line x1="120.94" y1="420.34" x2="120.94" y2="440.45" stroke="#cc6682" stroke-width="0.75" />
<line x1="118.84" y1="420.34" x2="123.04" y2="420.34" stroke="#cc6682" stroke-width="0.75" />
<line x1="118.84" y1="440.45" x2="123.04" y2="440.45" stroke="#cc6682" stroke-width="0.75" />
<line x1="127.18" y1="418.66" x2="127.18" y2="438.10" stroke="#cc6682" stroke-width="0.75" />
<line x1="125.08" y1="418.66" x2="129.28" y2="418.66" stroke="#cc6682" stroke-width="0.75" />
<line x1="125.08" y1="438.10" x2="129.28" y2="438.10" stroke="#cc6682" stroke-width="0.75" />
<line x1="135.50" y1="396.54" x2="135.50" y2="433.07" stroke="#cc6682" stroke-width="0.75" />
<line x1="133.40" y1="396.54" x2="137.60" y2="396.54" stroke="#cc6682" stroke-width="0.75" />
<line x1="133.40" y1="433.07" x2="137.60" y2="433.07" stroke="#cc6682" stroke-width="0.75" />
<line x1="141.74" y1="391.17" x2="141.74" y2="432.40" stroke="#cc6682" stroke-width="0.75" />
<line x1="139.64" y1="391.17" x2="143.84" y2="391.17" stroke="#cc6682" stroke-width="0.75" />
<line x1="139.64" y1="432.40" x2="143.84" y2="432.40" stroke="#cc6682" stroke-width="0.75" />
<line x1="150.06" y1="376.76" x2="150.06" y2="415.64" stroke="#cc6682" stroke-width="0.75" />
<line x1="147.96" y1="376.76" x2="152.16" y2="376.76" stroke="#cc6682" stroke-width="0.75" />
<line x1="147.96" y1="415.64" x2="152.16" y2="415.64" stroke="#cc6682" stroke-width="0.75" />
<polyline points="62.70,433.07 66.86,427.38 71.02,420.00 77.26,406.26 83.50,383.80" fill="none" stroke="#bc3554" stroke-width="1.0" stroke-linejoin="miter" stroke-linecap="square"/>
<polyline points="62.70,435.08 66.86,437.10 71.02,439.78 77.26,439.78 83.50,441.45 91.82,440.45 98.06,440.78 106.38,437.26 112.62,437.26 120.94,430.39 127.18,428.38 135.50,414.97 141.74,411.45 150.06,396.20" fill="none" stroke="#bc3554" stroke-width="1.0" stroke-linejoin="miter" stroke-linecap="square"/>
<rect x="60.85" y="431.22" width="3.70" height="3.70" rx="0.7" fill="#a50d37"/>
<rect x="65.01" y="425.53" width="3.70" height="3.70" rx="0.7" fill="#a50d37"/>
<rect x="69.17" y="418.15" width="3.70" height="3.70" rx="0.7" fill="#a50d37"/>
<rect x="75.41" y="404.41" width="3.70" height="3.70" rx="0.7" fill="#a50d37"/>
<rect x="81.65" y="381.95" width="3.70" height="3.70" rx="0.7" fill="#a50d37"/>
<rect x="60.85" y="433.23" width="3.70" height="3.70" rx="0.7" fill="#a50d37"/>
<rect x="65.01" y="435.25" width="3.70" height="3.70" rx="0.7" fill="#a50d37"/>
<rect x="69.17" y="437.93" width="3.70" height="3.70" rx="0.7" fill="#a50d37"/>
<rect x="75.41" y="437.93" width="3.70" height="3.70" rx="0.7" fill="#a50d37"/>
<rect x="81.65" y="439.60" width="3.70" height="3.70" rx="0.7" fill="#a50d37"/>
<rect x="89.97" y="438.60" width="3.70" height="3.70" rx="0.7" fill="#a50d37"/>
<rect x="96.21" y="438.93" width="3.70" height="3.70" rx="0.7" fill="#a50d37"/>
<rect x="104.53" y="435.41" width="3.70" height="3.70" rx="0.7" fill="#a50d37"/>
<rect x="110.77" y="435.41" width="3.70" height="3.70" rx="0.7" fill="#a50d37"/>
<rect x="119.09" y="428.54" width="3.70" height="3.70" rx="0.7" fill="#a50d37"/>
<rect x="125.33" y="426.53" width="3.70" height="3.70" rx="0.7" fill="#a50d37"/>
<rect x="133.65" y="413.12" width="3.70" height="3.70" rx="0.7" fill="#a50d37"/>
<rect x="139.89" y="409.60" width="3.70" height="3.70" rx="0.7" fill="#a50d37"/>
<rect x="148.21" y="394.35" width="3.70" height="3.70" rx="0.7" fill="#a50d37"/>
<line x1="41.50" y1="357.50" x2="41.50" y2="444.10" stroke="#1e1e1e" stroke-width="1.2" />
<line x1="40.90" y1="443.50" x2="168.00" y2="443.50" stroke="#1e1e1e" stroke-width="1.2" />
<line x1="38.70" y1="443.50" x2="41.50" y2="443.50" stroke="#1e1e1e" stroke-width="1" />
<text x="36.10" y="446.10" font-size="7.9" text-anchor="end" fill="#1e1e1e" font-weight="normal" stroke="#1e1e1e" stroke-width="0.2" >0</text>
<line x1="38.70" y1="427.50" x2="41.50" y2="427.50" stroke="#1e1e1e" stroke-width="1" />
<text x="36.10" y="429.34" font-size="7.9" text-anchor="end" fill="#1e1e1e" font-weight="normal" stroke="#1e1e1e" stroke-width="0.2" >50</text>
<line x1="38.70" y1="410.50" x2="41.50" y2="410.50" stroke="#1e1e1e" stroke-width="1" />
<text x="36.10" y="412.58" font-size="7.9" text-anchor="end" fill="#1e1e1e" font-weight="normal" stroke="#1e1e1e" stroke-width="0.2" >100</text>
<line x1="38.70" y1="393.50" x2="41.50" y2="393.50" stroke="#1e1e1e" stroke-width="1" />
<text x="36.10" y="395.82" font-size="7.9" text-anchor="end" fill="#1e1e1e" font-weight="normal" stroke="#1e1e1e" stroke-width="0.2" >150</text>
<line x1="38.70" y1="376.50" x2="41.50" y2="376.50" stroke="#1e1e1e" stroke-width="1" />
<text x="36.10" y="379.06" font-size="7.9" text-anchor="end" fill="#1e1e1e" font-weight="normal" stroke="#1e1e1e" stroke-width="0.2" >200</text>
<line x1="38.70" y1="360.50" x2="41.50" y2="360.50" stroke="#1e1e1e" stroke-width="1" />
<text x="36.10" y="362.30" font-size="7.9" text-anchor="end" fill="#1e1e1e" font-weight="normal" stroke="#1e1e1e" stroke-width="0.2" >250</text>
<line x1="41.50" y1="443.50" x2="41.50" y2="446.50" stroke="#1e1e1e" stroke-width="1" />
<text x="41.90" y="456.00" font-size="7.9" text-anchor="middle" fill="#1e1e1e" font-weight="normal" stroke="#1e1e1e" stroke-width="0.2" >0</text>
<line x1="83.50" y1="443.50" x2="83.50" y2="446.50" stroke="#1e1e1e" stroke-width="1" />
<text x="83.50" y="456.00" font-size="7.9" text-anchor="middle" fill="#1e1e1e" font-weight="normal" stroke="#1e1e1e" stroke-width="0.2" >20</text>
<line x1="125.50" y1="443.50" x2="125.50" y2="446.50" stroke="#1e1e1e" stroke-width="1" />
<text x="125.10" y="456.00" font-size="7.9" text-anchor="middle" fill="#1e1e1e" font-weight="normal" stroke="#1e1e1e" stroke-width="0.2" >40</text>
<line x1="166.50" y1="443.50" x2="166.50" y2="446.50" stroke="#1e1e1e" stroke-width="1" />
<text x="166.70" y="456.00" font-size="7.9" text-anchor="middle" fill="#1e1e1e" font-weight="normal" stroke="#1e1e1e" stroke-width="0.2" >60</text>
<text transform="translate(17.20,400.60) rotate(-90)" font-size="8.4" text-anchor="middle" fill="#1e1e1e" stroke="#1e1e1e" stroke-width="0.25" textLength="53.5" lengthAdjust="spacingAndGlyphs">Tumor area (mm<tspan font-size="5.6" dy="-3">2</tspan><tspan dy="3">)</tspan></text>
<text x="106.20" y="469.20" font-size="8.6" text-anchor="middle" fill="#1e1e1e" stroke="#1e1e1e" stroke-width="0.12" textLength="74.5" lengthAdjust="spacingAndGlyphs">Days after start of therapy</text>
<text x="70.20" y="415.30" font-size="7.2" text-anchor="middle" fill="#111" font-weight="normal"  stroke="#111" stroke-width="0.12">***</text>
<text x="73.70" y="398.40" font-size="7.2" text-anchor="middle" fill="#111" font-weight="normal"  stroke="#111" stroke-width="0.12">****</text>
<text x="83.70" y="372.30" font-size="7.2" text-anchor="middle" fill="#111" font-weight="normal"  stroke="#111" stroke-width="0.12">****</text>
<text x="276.90" y="352.50" font-size="8.9" text-anchor="middle" fill="#1e1e1e" font-weight="normal" stroke="#1e1e1e" stroke-width="0.15" >NCI-H929</text>
<line x1="212.60" y1="430.86" x2="212.60" y2="436.61" stroke="#cc6682" stroke-width="0.75" />
<line x1="210.50" y1="430.86" x2="214.70" y2="430.86" stroke="#cc6682" stroke-width="0.75" />
<line x1="210.50" y1="436.61" x2="214.70" y2="436.61" stroke="#cc6682" stroke-width="0.75" />
<line x1="221.99" y1="424.14" x2="221.99" y2="434.69" stroke="#cc6682" stroke-width="0.75" />
<line x1="219.89" y1="424.14" x2="224.09" y2="424.14" stroke="#cc6682" stroke-width="0.75" />
<line x1="219.89" y1="434.69" x2="224.09" y2="434.69" stroke="#cc6682" stroke-width="0.75" />
<line x1="234.51" y1="412.40" x2="234.51" y2="429.42" stroke="#cc6682" stroke-width="0.75" />
<line x1="232.41" y1="412.40" x2="236.61" y2="412.40" stroke="#cc6682" stroke-width="0.75" />
<line x1="232.41" y1="429.42" x2="236.61" y2="429.42" stroke="#cc6682" stroke-width="0.75" />
<line x1="243.90" y1="401.85" x2="243.90" y2="424.14" stroke="#cc6682" stroke-width="0.75" />
<line x1="241.80" y1="401.85" x2="246.00" y2="401.85" stroke="#cc6682" stroke-width="0.75" />
<line x1="241.80" y1="424.14" x2="246.00" y2="424.14" stroke="#cc6682" stroke-width="0.75" />
<line x1="256.42" y1="387.47" x2="256.42" y2="421.27" stroke="#cc6682" stroke-width="0.75" />
<line x1="254.32" y1="387.47" x2="258.52" y2="387.47" stroke="#cc6682" stroke-width="0.75" />
<line x1="254.32" y1="421.27" x2="258.52" y2="421.27" stroke="#cc6682" stroke-width="0.75" />
<line x1="265.81" y1="375.00" x2="265.81" y2="419.59" stroke="#cc6682" stroke-width="0.75" />
<line x1="263.71" y1="375.00" x2="267.91" y2="375.00" stroke="#cc6682" stroke-width="0.75" />
<line x1="263.71" y1="419.59" x2="267.91" y2="419.59" stroke="#cc6682" stroke-width="0.75" />
<line x1="212.60" y1="432.05" x2="212.60" y2="437.81" stroke="#cc6682" stroke-width="0.75" />
<line x1="210.50" y1="432.05" x2="214.70" y2="432.05" stroke="#cc6682" stroke-width="0.75" />
<line x1="210.50" y1="437.81" x2="214.70" y2="437.81" stroke="#cc6682" stroke-width="0.75" />
<line x1="221.99" y1="429.42" x2="221.99" y2="435.89" stroke="#cc6682" stroke-width="0.75" />
<line x1="219.89" y1="429.42" x2="224.09" y2="429.42" stroke="#cc6682" stroke-width="0.75" />
<line x1="219.89" y1="435.89" x2="224.09" y2="435.89" stroke="#cc6682" stroke-width="0.75" />
<line x1="234.51" y1="422.71" x2="234.51" y2="434.21" stroke="#cc6682" stroke-width="0.75" />
<line x1="232.41" y1="422.71" x2="236.61" y2="422.71" stroke="#cc6682" stroke-width="0.75" />
<line x1="232.41" y1="434.21" x2="236.61" y2="434.21" stroke="#cc6682" stroke-width="0.75" />
<line x1="243.90" y1="423.66" x2="243.90" y2="434.69" stroke="#cc6682" stroke-width="0.75" />
<line x1="241.80" y1="423.66" x2="246.00" y2="423.66" stroke="#cc6682" stroke-width="0.75" />
<line x1="241.80" y1="434.69" x2="246.00" y2="434.69" stroke="#cc6682" stroke-width="0.75" />
<line x1="256.42" y1="421.03" x2="256.42" y2="435.41" stroke="#cc6682" stroke-width="0.75" />
<line x1="254.32" y1="421.03" x2="258.52" y2="421.03" stroke="#cc6682" stroke-width="0.75" />
<line x1="254.32" y1="435.41" x2="258.52" y2="435.41" stroke="#cc6682" stroke-width="0.75" />
<line x1="265.81" y1="421.51" x2="265.81" y2="435.41" stroke="#cc6682" stroke-width="0.75" />
<line x1="263.71" y1="421.51" x2="267.91" y2="421.51" stroke="#cc6682" stroke-width="0.75" />
<line x1="263.71" y1="435.41" x2="267.91" y2="435.41" stroke="#cc6682" stroke-width="0.75" />
<line x1="278.33" y1="405.45" x2="278.33" y2="425.58" stroke="#cc6682" stroke-width="0.75" />
<line x1="276.23" y1="405.45" x2="280.43" y2="405.45" stroke="#cc6682" stroke-width="0.75" />
<line x1="276.23" y1="425.58" x2="280.43" y2="425.58" stroke="#cc6682" stroke-width="0.75" />
<line x1="287.72" y1="404.49" x2="287.72" y2="425.58" stroke="#cc6682" stroke-width="0.75" />
<line x1="285.62" y1="404.49" x2="289.82" y2="404.49" stroke="#cc6682" stroke-width="0.75" />
<line x1="285.62" y1="425.58" x2="289.82" y2="425.58" stroke="#cc6682" stroke-width="0.75" />
<line x1="300.24" y1="400.65" x2="300.24" y2="422.94" stroke="#cc6682" stroke-width="0.75" />
<line x1="298.14" y1="400.65" x2="302.34" y2="400.65" stroke="#cc6682" stroke-width="0.75" />
<line x1="298.14" y1="422.94" x2="302.34" y2="422.94" stroke="#cc6682" stroke-width="0.75" />
<line x1="312.76" y1="386.27" x2="312.76" y2="414.55" stroke="#cc6682" stroke-width="0.75" />
<line x1="310.66" y1="386.27" x2="314.86" y2="386.27" stroke="#cc6682" stroke-width="0.75" />
<line x1="310.66" y1="414.55" x2="314.86" y2="414.55" stroke="#cc6682" stroke-width="0.75" />
<line x1="322.15" y1="368.77" x2="322.15" y2="405.93" stroke="#cc6682" stroke-width="0.75" />
<line x1="320.05" y1="368.77" x2="324.25" y2="368.77" stroke="#cc6682" stroke-width="0.75" />
<line x1="320.05" y1="405.93" x2="324.25" y2="405.93" stroke="#cc6682" stroke-width="0.75" />
<polyline points="212.60,433.73 221.99,429.66 234.51,421.27 243.90,415.03 256.42,407.12 265.81,397.30" fill="none" stroke="#bc3554" stroke-width="1.0" stroke-linejoin="miter" stroke-linecap="square"/>
<polyline points="212.60,434.93 221.99,432.77 234.51,428.46 243.90,429.18 256.42,428.22 265.81,428.46 278.33,415.27 287.72,414.79 300.24,411.92 312.76,400.41 322.15,387.47" fill="none" stroke="#bc3554" stroke-width="1.0" stroke-linejoin="miter" stroke-linecap="square"/>
<rect x="210.75" y="431.88" width="3.70" height="3.70" rx="0.7" fill="#a50d37"/>
<rect x="220.14" y="427.81" width="3.70" height="3.70" rx="0.7" fill="#a50d37"/>
<rect x="232.66" y="419.42" width="3.70" height="3.70" rx="0.7" fill="#a50d37"/>
<rect x="242.05" y="413.18" width="3.70" height="3.70" rx="0.7" fill="#a50d37"/>
<rect x="254.57" y="405.27" width="3.70" height="3.70" rx="0.7" fill="#a50d37"/>
<rect x="263.96" y="395.45" width="3.70" height="3.70" rx="0.7" fill="#a50d37"/>
<rect x="210.75" y="433.08" width="3.70" height="3.70" rx="0.7" fill="#a50d37"/>
<rect x="220.14" y="430.92" width="3.70" height="3.70" rx="0.7" fill="#a50d37"/>
<rect x="232.66" y="426.61" width="3.70" height="3.70" rx="0.7" fill="#a50d37"/>
<rect x="242.05" y="427.33" width="3.70" height="3.70" rx="0.7" fill="#a50d37"/>
<rect x="254.57" y="426.37" width="3.70" height="3.70" rx="0.7" fill="#a50d37"/>
<rect x="263.96" y="426.61" width="3.70" height="3.70" rx="0.7" fill="#a50d37"/>
<rect x="276.48" y="413.42" width="3.70" height="3.70" rx="0.7" fill="#a50d37"/>
<rect x="285.87" y="412.94" width="3.70" height="3.70" rx="0.7" fill="#a50d37"/>
<rect x="298.39" y="410.07" width="3.70" height="3.70" rx="0.7" fill="#a50d37"/>
<rect x="310.91" y="398.56" width="3.70" height="3.70" rx="0.7" fill="#a50d37"/>
<rect x="320.30" y="385.62" width="3.70" height="3.70" rx="0.7" fill="#a50d37"/>
<line x1="212.50" y1="357.40" x2="212.50" y2="444.10" stroke="#1e1e1e" stroke-width="1.2" />
<line x1="211.90" y1="443.50" x2="339.00" y2="443.50" stroke="#1e1e1e" stroke-width="1.2" />
<line x1="209.70" y1="443.50" x2="212.50" y2="443.50" stroke="#1e1e1e" stroke-width="1" />
<text x="207.00" y="446.10" font-size="7.9" text-anchor="end" fill="#1e1e1e" font-weight="normal" stroke="#1e1e1e" stroke-width="0.2" >0</text>
<line x1="209.70" y1="431.50" x2="212.50" y2="431.50" stroke="#1e1e1e" stroke-width="1" />
<text x="207.00" y="434.11" font-size="7.9" text-anchor="end" fill="#1e1e1e" font-weight="normal" stroke="#1e1e1e" stroke-width="0.2" >50</text>
<line x1="209.70" y1="419.50" x2="212.50" y2="419.50" stroke="#1e1e1e" stroke-width="1" />
<text x="207.00" y="422.13" font-size="7.9" text-anchor="end" fill="#1e1e1e" font-weight="normal" stroke="#1e1e1e" stroke-width="0.2" >100</text>
<line x1="209.70" y1="407.50" x2="212.50" y2="407.50" stroke="#1e1e1e" stroke-width="1" />
<text x="207.00" y="410.14" font-size="7.9" text-anchor="end" fill="#1e1e1e" font-weight="normal" stroke="#1e1e1e" stroke-width="0.2" >150</text>
<line x1="209.70" y1="395.50" x2="212.50" y2="395.50" stroke="#1e1e1e" stroke-width="1" />
<text x="207.00" y="398.16" font-size="7.9" text-anchor="end" fill="#1e1e1e" font-weight="normal" stroke="#1e1e1e" stroke-width="0.2" >200</text>
<line x1="209.70" y1="383.50" x2="212.50" y2="383.50" stroke="#1e1e1e" stroke-width="1" />
<text x="207.00" y="386.17" font-size="7.9" text-anchor="end" fill="#1e1e1e" font-weight="normal" stroke="#1e1e1e" stroke-width="0.2" >250</text>
<line x1="209.70" y1="371.50" x2="212.50" y2="371.50" stroke="#1e1e1e" stroke-width="1" />
<text x="207.00" y="374.19" font-size="7.9" text-anchor="end" fill="#1e1e1e" font-weight="normal" stroke="#1e1e1e" stroke-width="0.2" >300</text>
<line x1="209.70" y1="359.50" x2="212.50" y2="359.50" stroke="#1e1e1e" stroke-width="1" />
<text x="207.00" y="362.20" font-size="7.9" text-anchor="end" fill="#1e1e1e" font-weight="normal" stroke="#1e1e1e" stroke-width="0.2" >350</text>
<line x1="212.50" y1="443.50" x2="212.50" y2="446.50" stroke="#1e1e1e" stroke-width="1" />
<text x="212.60" y="456.00" font-size="7.9" text-anchor="middle" fill="#1e1e1e" font-weight="normal" stroke="#1e1e1e" stroke-width="0.2" >0</text>
<line x1="243.50" y1="443.50" x2="243.50" y2="446.50" stroke="#1e1e1e" stroke-width="1" />
<text x="243.90" y="456.00" font-size="7.9" text-anchor="middle" fill="#1e1e1e" font-weight="normal" stroke="#1e1e1e" stroke-width="0.2" >10</text>
<line x1="275.50" y1="443.50" x2="275.50" y2="446.50" stroke="#1e1e1e" stroke-width="1" />
<text x="275.20" y="456.00" font-size="7.9" text-anchor="middle" fill="#1e1e1e" font-weight="normal" stroke="#1e1e1e" stroke-width="0.2" >20</text>
<line x1="306.50" y1="443.50" x2="306.50" y2="446.50" stroke="#1e1e1e" stroke-width="1" />
<text x="306.50" y="456.00" font-size="7.9" text-anchor="middle" fill="#1e1e1e" font-weight="normal" stroke="#1e1e1e" stroke-width="0.2" >30</text>
<line x1="337.50" y1="443.50" x2="337.50" y2="446.50" stroke="#1e1e1e" stroke-width="1" />
<text x="337.80" y="456.00" font-size="7.9" text-anchor="middle" fill="#1e1e1e" font-weight="normal" stroke="#1e1e1e" stroke-width="0.2" >40</text>
<text transform="translate(188.20,400.00) rotate(-90)" font-size="8.4" text-anchor="middle" fill="#1e1e1e" stroke="#1e1e1e" stroke-width="0.25" textLength="53.5" lengthAdjust="spacingAndGlyphs">Tumor area (mm<tspan font-size="5.6" dy="-3">2</tspan><tspan dy="3">)</tspan></text>
<text x="277.00" y="469.20" font-size="8.6" text-anchor="middle" fill="#1e1e1e" stroke="#1e1e1e" stroke-width="0.12" textLength="74.5" lengthAdjust="spacingAndGlyphs">Days after start of therapy</text>
<text x="244.10" y="402.40" font-size="7.2" text-anchor="middle" fill="#111" font-weight="normal"  stroke="#111" stroke-width="0.12">**</text>
<text x="256.60" y="387.50" font-size="7.2" text-anchor="middle" fill="#111" font-weight="normal"  stroke="#111" stroke-width="0.12">****</text>
<text x="266.00" y="374.80" font-size="7.2" text-anchor="middle" fill="#111" font-weight="normal"  stroke="#111" stroke-width="0.12">****</text>
<text x="447.20" y="352.30" font-size="8.9" text-anchor="middle" fill="#1e1e1e" font-weight="normal" stroke="#1e1e1e" stroke-width="0.15" >OPM-2</text>
<line x1="383.60" y1="425.62" x2="383.60" y2="436.33" stroke="#cc6682" stroke-width="0.75" />
<line x1="381.50" y1="425.62" x2="385.70" y2="425.62" stroke="#cc6682" stroke-width="0.75" />
<line x1="381.50" y1="436.33" x2="385.70" y2="436.33" stroke="#cc6682" stroke-width="0.75" />
<line x1="408.71" y1="406.20" x2="408.71" y2="427.63" stroke="#cc6682" stroke-width="0.75" />
<line x1="406.61" y1="406.20" x2="410.81" y2="406.20" stroke="#cc6682" stroke-width="0.75" />
<line x1="406.61" y1="427.63" x2="410.81" y2="427.63" stroke="#cc6682" stroke-width="0.75" />
<line x1="425.45" y1="398.50" x2="425.45" y2="414.24" stroke="#cc6682" stroke-width="0.75" />
<line x1="423.35" y1="398.50" x2="427.55" y2="398.50" stroke="#cc6682" stroke-width="0.75" />
<line x1="423.35" y1="414.24" x2="427.55" y2="414.24" stroke="#cc6682" stroke-width="0.75" />
<line x1="442.19" y1="383.44" x2="442.19" y2="410.89" stroke="#cc6682" stroke-width="0.75" />
<line x1="440.09" y1="383.44" x2="444.29" y2="383.44" stroke="#cc6682" stroke-width="0.75" />
<line x1="440.09" y1="410.89" x2="444.29" y2="410.89" stroke="#cc6682" stroke-width="0.75" />
<line x1="383.60" y1="426.29" x2="383.60" y2="437.00" stroke="#cc6682" stroke-width="0.75" />
<line x1="381.50" y1="426.29" x2="385.70" y2="426.29" stroke="#cc6682" stroke-width="0.75" />
<line x1="381.50" y1="437.00" x2="385.70" y2="437.00" stroke="#cc6682" stroke-width="0.75" />
<line x1="408.71" y1="428.30" x2="408.71" y2="438.34" stroke="#cc6682" stroke-width="0.75" />
<line x1="406.61" y1="428.30" x2="410.81" y2="428.30" stroke="#cc6682" stroke-width="0.75" />
<line x1="406.61" y1="438.34" x2="410.81" y2="438.34" stroke="#cc6682" stroke-width="0.75" />
<line x1="425.45" y1="417.59" x2="425.45" y2="437.67" stroke="#cc6682" stroke-width="0.75" />
<line x1="423.35" y1="417.59" x2="427.55" y2="417.59" stroke="#cc6682" stroke-width="0.75" />
<line x1="423.35" y1="437.67" x2="427.55" y2="437.67" stroke="#cc6682" stroke-width="0.75" />
<line x1="442.19" y1="403.52" x2="442.19" y2="431.65" stroke="#cc6682" stroke-width="0.75" />
<line x1="440.09" y1="403.52" x2="444.29" y2="403.52" stroke="#cc6682" stroke-width="0.75" />
<line x1="440.09" y1="431.65" x2="444.29" y2="431.65" stroke="#cc6682" stroke-width="0.75" />
<line x1="467.30" y1="408.21" x2="467.30" y2="429.97" stroke="#cc6682" stroke-width="0.75" />
<line x1="465.20" y1="408.21" x2="469.40" y2="408.21" stroke="#cc6682" stroke-width="0.75" />
<line x1="465.20" y1="429.97" x2="469.40" y2="429.97" stroke="#cc6682" stroke-width="0.75" />
<line x1="484.04" y1="392.14" x2="484.04" y2="422.27" stroke="#cc6682" stroke-width="0.75" />
<line x1="481.94" y1="392.14" x2="486.14" y2="392.14" stroke="#cc6682" stroke-width="0.75" />
<line x1="481.94" y1="422.27" x2="486.14" y2="422.27" stroke="#cc6682" stroke-width="0.75" />
<line x1="492.41" y1="386.11" x2="492.41" y2="416.25" stroke="#cc6682" stroke-width="0.75" />
<line x1="490.31" y1="386.11" x2="494.51" y2="386.11" stroke="#cc6682" stroke-width="0.75" />
<line x1="490.31" y1="416.25" x2="494.51" y2="416.25" stroke="#cc6682" stroke-width="0.75" />
<line x1="500.78" y1="375.40" x2="500.78" y2="413.23" stroke="#cc6682" stroke-width="0.75" />
<line x1="498.68" y1="375.40" x2="502.88" y2="375.40" stroke="#cc6682" stroke-width="0.75" />
<line x1="498.68" y1="413.23" x2="502.88" y2="413.23" stroke="#cc6682" stroke-width="0.75" />
<polyline points="383.60,430.78 408.71,416.58 425.45,408.21 442.19,397.50" fill="none" stroke="#bc3554" stroke-width="1.0" stroke-linejoin="miter" stroke-linecap="square"/>
<polyline points="383.60,430.98 408.71,433.32 425.45,426.29 442.19,417.59 467.30,419.26 484.04,406.87 492.41,400.85 500.78,394.48" fill="none" stroke="#bc3554" stroke-width="1.0" stroke-linejoin="miter" stroke-linecap="square"/>
<rect x="381.75" y="428.93" width="3.70" height="3.70" rx="0.7" fill="#a50d37"/>
<rect x="406.86" y="414.73" width="3.70" height="3.70" rx="0.7" fill="#a50d37"/>
<rect x="423.60" y="406.36" width="3.70" height="3.70" rx="0.7" fill="#a50d37"/>
<rect x="440.34" y="395.65" width="3.70" height="3.70" rx="0.7" fill="#a50d37"/>
<rect x="381.75" y="429.13" width="3.70" height="3.70" rx="0.7" fill="#a50d37"/>
<rect x="406.86" y="431.47" width="3.70" height="3.70" rx="0.7" fill="#a50d37"/>
<rect x="423.60" y="424.44" width="3.70" height="3.70" rx="0.7" fill="#a50d37"/>
<rect x="440.34" y="415.74" width="3.70" height="3.70" rx="0.7" fill="#a50d37"/>
<rect x="465.45" y="417.41" width="3.70" height="3.70" rx="0.7" fill="#a50d37"/>
<rect x="482.19" y="405.02" width="3.70" height="3.70" rx="0.7" fill="#a50d37"/>
<rect x="490.56" y="399.00" width="3.70" height="3.70" rx="0.7" fill="#a50d37"/>
<rect x="498.93" y="392.63" width="3.70" height="3.70" rx="0.7" fill="#a50d37"/>
<line x1="383.50" y1="357.50" x2="383.50" y2="444.10" stroke="#1e1e1e" stroke-width="1.2" />
<line x1="382.90" y1="443.50" x2="511.50" y2="443.50" stroke="#1e1e1e" stroke-width="1.2" />
<line x1="380.70" y1="443.50" x2="383.50" y2="443.50" stroke="#1e1e1e" stroke-width="1" />
<text x="378.00" y="446.00" font-size="7.9" text-anchor="end" fill="#1e1e1e" font-weight="normal" stroke="#1e1e1e" stroke-width="0.2" >0</text>
<line x1="380.70" y1="426.50" x2="383.50" y2="426.50" stroke="#1e1e1e" stroke-width="1" />
<text x="378.00" y="429.26" font-size="7.9" text-anchor="end" fill="#1e1e1e" font-weight="normal" stroke="#1e1e1e" stroke-width="0.2" >50</text>
<line x1="380.70" y1="410.50" x2="383.50" y2="410.50" stroke="#1e1e1e" stroke-width="1" />
<text x="378.00" y="412.52" font-size="7.9" text-anchor="end" fill="#1e1e1e" font-weight="normal" stroke="#1e1e1e" stroke-width="0.2" >100</text>
<line x1="380.70" y1="393.50" x2="383.50" y2="393.50" stroke="#1e1e1e" stroke-width="1" />
<text x="378.00" y="395.78" font-size="7.9" text-anchor="end" fill="#1e1e1e" font-weight="normal" stroke="#1e1e1e" stroke-width="0.2" >150</text>
<line x1="380.70" y1="376.50" x2="383.50" y2="376.50" stroke="#1e1e1e" stroke-width="1" />
<text x="378.00" y="379.04" font-size="7.9" text-anchor="end" fill="#1e1e1e" font-weight="normal" stroke="#1e1e1e" stroke-width="0.2" >200</text>
<line x1="380.70" y1="360.50" x2="383.50" y2="360.50" stroke="#1e1e1e" stroke-width="1" />
<text x="378.00" y="362.30" font-size="7.9" text-anchor="end" fill="#1e1e1e" font-weight="normal" stroke="#1e1e1e" stroke-width="0.2" >250</text>
<line x1="383.50" y1="443.50" x2="383.50" y2="446.50" stroke="#1e1e1e" stroke-width="1" />
<text x="383.60" y="455.90" font-size="7.9" text-anchor="middle" fill="#1e1e1e" font-weight="normal" stroke="#1e1e1e" stroke-width="0.2" >0</text>
<line x1="425.50" y1="443.50" x2="425.50" y2="446.50" stroke="#1e1e1e" stroke-width="1" />
<text x="425.45" y="455.90" font-size="7.9" text-anchor="middle" fill="#1e1e1e" font-weight="normal" stroke="#1e1e1e" stroke-width="0.2" >5</text>
<line x1="467.50" y1="443.50" x2="467.50" y2="446.50" stroke="#1e1e1e" stroke-width="1" />
<text x="467.30" y="455.90" font-size="7.9" text-anchor="middle" fill="#1e1e1e" font-weight="normal" stroke="#1e1e1e" stroke-width="0.2" >10</text>
<line x1="509.50" y1="443.50" x2="509.50" y2="446.50" stroke="#1e1e1e" stroke-width="1" />
<text x="509.15" y="455.90" font-size="7.9" text-anchor="middle" fill="#1e1e1e" font-weight="normal" stroke="#1e1e1e" stroke-width="0.2" >15</text>
<text transform="translate(359.00,400.60) rotate(-90)" font-size="8.4" text-anchor="middle" fill="#1e1e1e" stroke="#1e1e1e" stroke-width="0.25" textLength="53.5" lengthAdjust="spacingAndGlyphs">Tumor area (mm<tspan font-size="5.6" dy="-3">2</tspan><tspan dy="3">)</tspan></text>
<text x="447.50" y="469.20" font-size="8.6" text-anchor="middle" fill="#1e1e1e" stroke="#1e1e1e" stroke-width="0.12" textLength="74.5" lengthAdjust="spacingAndGlyphs">Days after start of therapy</text>
<text x="408.20" y="407.30" font-size="7.2" text-anchor="middle" fill="#111" font-weight="normal"  stroke="#111" stroke-width="0.12">**</text>
<text x="425.00" y="399.10" font-size="7.2" text-anchor="middle" fill="#111" font-weight="normal"  stroke="#111" stroke-width="0.12">**</text>
<text x="441.80" y="383.00" font-size="7.2" text-anchor="middle" fill="#111" font-weight="normal"  stroke="#111" stroke-width="0.12">***</text>
<line x1="217.30" y1="480.60" x2="226.30" y2="480.60" stroke="#d9708c" stroke-width="0.8" />
<circle cx="221.8" cy="480.6" r="1.4" fill="#8a0a2a"/>
<text x="229.80" y="483.10" font-size="7.2" text-anchor="start" fill="#333" font-weight="normal"  >Control</text>
<line x1="258.50" y1="480.60" x2="268.70" y2="480.60" stroke="#d9708c" stroke-width="0.8" />
<circle cx="263.6" cy="480.6" r="1.6" fill="#8a0a2a"/>
<text x="271.50" y="483.10" font-size="7.2" text-anchor="start" fill="#333" font-weight="normal"  >Enitociclib</text>
<text x="136.70" y="508.60" font-size="8.9" text-anchor="middle" fill="#1e1e1e" font-weight="normal" stroke="#1e1e1e" stroke-width="0.15" >Enitociclib/Lenalidomide</text>
<line x1="72.30" y1="581.50" x2="72.30" y2="594.19" stroke="#7090ae" stroke-width="0.8" />
<line x1="70.20" y1="581.50" x2="74.40" y2="581.50" stroke="#7090ae" stroke-width="0.8" />
<line x1="70.20" y1="594.19" x2="74.40" y2="594.19" stroke="#7090ae" stroke-width="0.8" />
<line x1="78.58" y1="572.81" x2="78.58" y2="593.52" stroke="#7090ae" stroke-width="0.8" />
<line x1="76.48" y1="572.81" x2="80.68" y2="572.81" stroke="#7090ae" stroke-width="0.8" />
<line x1="76.48" y1="593.52" x2="80.68" y2="593.52" stroke="#7090ae" stroke-width="0.8" />
<line x1="84.86" y1="570.47" x2="84.86" y2="595.52" stroke="#7090ae" stroke-width="0.8" />
<line x1="82.76" y1="570.47" x2="86.96" y2="570.47" stroke="#7090ae" stroke-width="0.8" />
<line x1="82.76" y1="595.52" x2="86.96" y2="595.52" stroke="#7090ae" stroke-width="0.8" />
<line x1="103.70" y1="561.79" x2="103.70" y2="593.52" stroke="#7090ae" stroke-width="0.8" />
<line x1="101.60" y1="561.79" x2="105.80" y2="561.79" stroke="#7090ae" stroke-width="0.8" />
<line x1="101.60" y1="593.52" x2="105.80" y2="593.52" stroke="#7090ae" stroke-width="0.8" />
<line x1="116.26" y1="564.46" x2="116.26" y2="595.52" stroke="#7090ae" stroke-width="0.8" />
<line x1="114.16" y1="564.46" x2="118.36" y2="564.46" stroke="#7090ae" stroke-width="0.8" />
<line x1="114.16" y1="595.52" x2="118.36" y2="595.52" stroke="#7090ae" stroke-width="0.8" />
<line x1="141.38" y1="538.08" x2="141.38" y2="596.86" stroke="#7090ae" stroke-width="0.8" />
<line x1="139.28" y1="538.08" x2="143.48" y2="538.08" stroke="#7090ae" stroke-width="0.8" />
<line x1="139.28" y1="596.86" x2="143.48" y2="596.86" stroke="#7090ae" stroke-width="0.8" />
<line x1="160.22" y1="542.75" x2="160.22" y2="597.53" stroke="#7090ae" stroke-width="0.8" />
<line x1="158.12" y1="542.75" x2="162.32" y2="542.75" stroke="#7090ae" stroke-width="0.8" />
<line x1="158.12" y1="597.53" x2="162.32" y2="597.53" stroke="#7090ae" stroke-width="0.8" />
<line x1="172.78" y1="527.05" x2="172.78" y2="600.20" stroke="#7090ae" stroke-width="0.8" />
<line x1="170.68" y1="527.05" x2="174.88" y2="527.05" stroke="#7090ae" stroke-width="0.8" />
<line x1="170.68" y1="600.20" x2="174.88" y2="600.20" stroke="#7090ae" stroke-width="0.8" />
<line x1="72.30" y1="582.83" x2="72.30" y2="593.52" stroke="#7090ae" stroke-width="0.8" />
<line x1="70.20" y1="582.83" x2="74.40" y2="582.83" stroke="#7090ae" stroke-width="0.8" />
<line x1="70.20" y1="593.52" x2="74.40" y2="593.52" stroke="#7090ae" stroke-width="0.8" />
<line x1="78.58" y1="581.83" x2="78.58" y2="593.52" stroke="#7090ae" stroke-width="0.8" />
<line x1="76.48" y1="581.83" x2="80.68" y2="581.83" stroke="#7090ae" stroke-width="0.8" />
<line x1="76.48" y1="593.52" x2="80.68" y2="593.52" stroke="#7090ae" stroke-width="0.8" />
<line x1="84.86" y1="582.83" x2="84.86" y2="594.86" stroke="#7090ae" stroke-width="0.8" />
<line x1="82.76" y1="582.83" x2="86.96" y2="582.83" stroke="#7090ae" stroke-width="0.8" />
<line x1="82.76" y1="594.86" x2="86.96" y2="594.86" stroke="#7090ae" stroke-width="0.8" />
<line x1="103.70" y1="581.83" x2="103.70" y2="592.85" stroke="#7090ae" stroke-width="0.8" />
<line x1="101.60" y1="581.83" x2="105.80" y2="581.83" stroke="#7090ae" stroke-width="0.8" />
<line x1="101.60" y1="592.85" x2="105.80" y2="592.85" stroke="#7090ae" stroke-width="0.8" />
<line x1="116.26" y1="570.14" x2="116.26" y2="593.52" stroke="#7090ae" stroke-width="0.8" />
<line x1="114.16" y1="570.14" x2="118.36" y2="570.14" stroke="#7090ae" stroke-width="0.8" />
<line x1="114.16" y1="593.52" x2="118.36" y2="593.52" stroke="#7090ae" stroke-width="0.8" />
<line x1="141.38" y1="574.15" x2="141.38" y2="590.85" stroke="#7090ae" stroke-width="0.8" />
<line x1="139.28" y1="574.15" x2="143.48" y2="574.15" stroke="#7090ae" stroke-width="0.8" />
<line x1="139.28" y1="590.85" x2="143.48" y2="590.85" stroke="#7090ae" stroke-width="0.8" />
<line x1="160.22" y1="576.15" x2="160.22" y2="586.84" stroke="#7090ae" stroke-width="0.8" />
<line x1="158.12" y1="576.15" x2="162.32" y2="576.15" stroke="#7090ae" stroke-width="0.8" />
<line x1="158.12" y1="586.84" x2="162.32" y2="586.84" stroke="#7090ae" stroke-width="0.8" />
<line x1="172.78" y1="569.81" x2="172.78" y2="600.20" stroke="#7090ae" stroke-width="0.8" />
<line x1="170.68" y1="569.81" x2="174.88" y2="569.81" stroke="#7090ae" stroke-width="0.8" />
<line x1="170.68" y1="600.20" x2="174.88" y2="600.20" stroke="#7090ae" stroke-width="0.8" />
<polyline points="72.30,588.18 78.58,582.16 84.86,581.50 103.70,577.49 116.26,577.15 141.38,564.80 160.22,564.13 172.78,555.78" fill="none" stroke="#386a96" stroke-width="1.0" stroke-linejoin="miter" stroke-linecap="square"/>
<polyline points="72.30,587.51 78.58,587.51 84.86,588.84 103.70,587.51 116.26,582.83 141.38,585.50 160.22,581.50 172.78,586.17" fill="none" stroke="#386a96" stroke-width="1.0" stroke-linejoin="miter" stroke-linecap="square"/>
<circle cx="72.30" cy="588.18" r="1.60" fill="#0d3d6b"/>
<circle cx="78.58" cy="582.16" r="1.60" fill="#0d3d6b"/>
<circle cx="84.86" cy="581.50" r="1.60" fill="#0d3d6b"/>
<circle cx="103.70" cy="577.49" r="1.60" fill="#0d3d6b"/>
<circle cx="116.26" cy="577.15" r="1.60" fill="#0d3d6b"/>
<circle cx="141.38" cy="564.80" r="1.60" fill="#0d3d6b"/>
<circle cx="160.22" cy="564.13" r="1.60" fill="#0d3d6b"/>
<circle cx="172.78" cy="555.78" r="1.60" fill="#0d3d6b"/>
<circle cx="72.30" cy="587.51" r="1.95" fill="#0d3d6b"/>
<circle cx="78.58" cy="587.51" r="1.95" fill="#0d3d6b"/>
<circle cx="84.86" cy="588.84" r="1.95" fill="#0d3d6b"/>
<circle cx="103.70" cy="587.51" r="1.95" fill="#0d3d6b"/>
<circle cx="116.26" cy="582.83" r="1.95" fill="#0d3d6b"/>
<circle cx="141.38" cy="585.50" r="1.95" fill="#0d3d6b"/>
<circle cx="160.22" cy="581.50" r="1.95" fill="#0d3d6b"/>
<circle cx="172.78" cy="586.17" r="1.95" fill="#0d3d6b"/>
<line x1="72.50" y1="514.20" x2="72.50" y2="601.10" stroke="#1e1e1e" stroke-width="1.2" />
<line x1="71.90" y1="600.50" x2="200.00" y2="600.50" stroke="#1e1e1e" stroke-width="1.2" />
<line x1="69.70" y1="600.50" x2="72.50" y2="600.50" stroke="#1e1e1e" stroke-width="1" />
<text x="66.70" y="602.50" font-size="7.9" text-anchor="end" fill="#1e1e1e" font-weight="normal" stroke="#1e1e1e" stroke-width="0.2" >0</text>
<line x1="69.70" y1="583.50" x2="72.50" y2="583.50" stroke="#1e1e1e" stroke-width="1" />
<text x="66.70" y="585.80" font-size="7.9" text-anchor="end" fill="#1e1e1e" font-weight="normal" stroke="#1e1e1e" stroke-width="0.2" >50</text>
<line x1="69.70" y1="566.50" x2="72.50" y2="566.50" stroke="#1e1e1e" stroke-width="1" />
<text x="66.70" y="569.10" font-size="7.9" text-anchor="end" fill="#1e1e1e" font-weight="normal" stroke="#1e1e1e" stroke-width="0.2" >100</text>
<line x1="69.70" y1="550.50" x2="72.50" y2="550.50" stroke="#1e1e1e" stroke-width="1" />
<text x="66.70" y="552.40" font-size="7.9" text-anchor="end" fill="#1e1e1e" font-weight="normal" stroke="#1e1e1e" stroke-width="0.2" >150</text>
<line x1="69.70" y1="533.50" x2="72.50" y2="533.50" stroke="#1e1e1e" stroke-width="1" />
<text x="66.70" y="535.70" font-size="7.9" text-anchor="end" fill="#1e1e1e" font-weight="normal" stroke="#1e1e1e" stroke-width="0.2" >200</text>
<line x1="69.70" y1="516.50" x2="72.50" y2="516.50" stroke="#1e1e1e" stroke-width="1" />
<text x="66.70" y="519.00" font-size="7.9" text-anchor="end" fill="#1e1e1e" font-weight="normal" stroke="#1e1e1e" stroke-width="0.2" >250</text>
<line x1="72.50" y1="600.50" x2="72.50" y2="603.50" stroke="#1e1e1e" stroke-width="1" />
<text x="72.30" y="612.40" font-size="7.9" text-anchor="middle" fill="#1e1e1e" font-weight="normal" stroke="#1e1e1e" stroke-width="0.2" >0</text>
<line x1="103.50" y1="600.50" x2="103.50" y2="603.50" stroke="#1e1e1e" stroke-width="1" />
<text x="103.70" y="612.40" font-size="7.9" text-anchor="middle" fill="#1e1e1e" font-weight="normal" stroke="#1e1e1e" stroke-width="0.2" >5</text>
<line x1="135.50" y1="600.50" x2="135.50" y2="603.50" stroke="#1e1e1e" stroke-width="1" />
<text x="135.10" y="612.40" font-size="7.9" text-anchor="middle" fill="#1e1e1e" font-weight="normal" stroke="#1e1e1e" stroke-width="0.2" >10</text>
<line x1="166.50" y1="600.50" x2="166.50" y2="603.50" stroke="#1e1e1e" stroke-width="1" />
<text x="166.50" y="612.40" font-size="7.9" text-anchor="middle" fill="#1e1e1e" font-weight="normal" stroke="#1e1e1e" stroke-width="0.2" >15</text>
<line x1="197.50" y1="600.50" x2="197.50" y2="603.50" stroke="#1e1e1e" stroke-width="1" />
<text x="197.90" y="612.40" font-size="7.9" text-anchor="middle" fill="#1e1e1e" font-weight="normal" stroke="#1e1e1e" stroke-width="0.2" >20</text>
<text transform="translate(48.50,557.80) rotate(-90)" font-size="8.4" text-anchor="middle" fill="#1e1e1e" stroke="#1e1e1e" stroke-width="0.25" textLength="57.5" lengthAdjust="spacingAndGlyphs">Tumor area (mm<tspan font-size="5.6" dy="-3">2</tspan><tspan dy="3">)</tspan></text>
<text x="136.50" y="625.50" font-size="8.6" text-anchor="middle" fill="#1e1e1e" stroke="#1e1e1e" stroke-width="0.12" textLength="75" lengthAdjust="spacingAndGlyphs">Days after start of therapy</text>
<text x="172.90" y="527.50" font-size="7.2" text-anchor="middle" fill="#111" font-weight="normal"  stroke="#111" stroke-width="0.12">*</text>
<line x1="205.00" y1="557.40" x2="215.00" y2="557.40" stroke="#6a88a8" stroke-width="0.8" />
<circle cx="210.2" cy="557.4" r="1.3" fill="#0a2a4a"/>
<text x="218.00" y="559.90" font-size="6.8" text-anchor="start" fill="#333" font-weight="normal"  >Lenalidomide</text>
<line x1="205.00" y1="568.40" x2="215.00" y2="568.40" stroke="#6a88a8" stroke-width="0.8" />
<circle cx="210.2" cy="568.4" r="1.6" fill="#0a2a4a"/>
<text x="218.00" y="570.70" font-size="6.8" text-anchor="start" fill="#333" font-weight="normal"  >Lenalidomide</text>
<text x="219.30" y="579.60" font-size="6.8" text-anchor="start" fill="#333" font-weight="normal"  >+ Enitociclib</text>
<text x="367.10" y="508.60" font-size="8.9" text-anchor="middle" fill="#1e1e1e" font-weight="normal" stroke="#1e1e1e" stroke-width="0.15" >Enitociclib/Bortezomib</text>
<line x1="302.10" y1="580.83" x2="302.10" y2="592.85" stroke="#7fbf7b" stroke-width="0.8" />
<line x1="300.00" y1="580.83" x2="304.20" y2="580.83" stroke="#7fbf7b" stroke-width="0.8" />
<line x1="300.00" y1="592.85" x2="304.20" y2="592.85" stroke="#7fbf7b" stroke-width="0.8" />
<line x1="321.00" y1="563.13" x2="321.00" y2="590.85" stroke="#7fbf7b" stroke-width="0.8" />
<line x1="318.90" y1="563.13" x2="323.10" y2="563.13" stroke="#7fbf7b" stroke-width="0.8" />
<line x1="318.90" y1="590.85" x2="323.10" y2="590.85" stroke="#7fbf7b" stroke-width="0.8" />
<line x1="333.60" y1="551.77" x2="333.60" y2="590.85" stroke="#7fbf7b" stroke-width="0.8" />
<line x1="331.50" y1="551.77" x2="335.70" y2="551.77" stroke="#7fbf7b" stroke-width="0.8" />
<line x1="331.50" y1="590.85" x2="335.70" y2="590.85" stroke="#7fbf7b" stroke-width="0.8" />
<line x1="346.20" y1="538.41" x2="346.20" y2="586.84" stroke="#7fbf7b" stroke-width="0.8" />
<line x1="344.10" y1="538.41" x2="348.30" y2="538.41" stroke="#7fbf7b" stroke-width="0.8" />
<line x1="344.10" y1="586.84" x2="348.30" y2="586.84" stroke="#7fbf7b" stroke-width="0.8" />
<line x1="302.10" y1="580.83" x2="302.10" y2="592.85" stroke="#7fbf7b" stroke-width="0.8" />
<line x1="300.00" y1="580.83" x2="304.20" y2="580.83" stroke="#7fbf7b" stroke-width="0.8" />
<line x1="300.00" y1="592.85" x2="304.20" y2="592.85" stroke="#7fbf7b" stroke-width="0.8" />
<line x1="321.00" y1="573.48" x2="321.00" y2="590.85" stroke="#7fbf7b" stroke-width="0.8" />
<line x1="318.90" y1="573.48" x2="323.10" y2="573.48" stroke="#7fbf7b" stroke-width="0.8" />
<line x1="318.90" y1="590.85" x2="323.10" y2="590.85" stroke="#7fbf7b" stroke-width="0.8" />
<line x1="333.60" y1="566.80" x2="333.60" y2="590.85" stroke="#7fbf7b" stroke-width="0.8" />
<line x1="331.50" y1="566.80" x2="335.70" y2="566.80" stroke="#7fbf7b" stroke-width="0.8" />
<line x1="331.50" y1="590.85" x2="335.70" y2="590.85" stroke="#7fbf7b" stroke-width="0.8" />
<line x1="346.20" y1="559.45" x2="346.20" y2="586.84" stroke="#7fbf7b" stroke-width="0.8" />
<line x1="344.10" y1="559.45" x2="348.30" y2="559.45" stroke="#7fbf7b" stroke-width="0.8" />
<line x1="344.10" y1="586.84" x2="348.30" y2="586.84" stroke="#7fbf7b" stroke-width="0.8" />
<line x1="365.10" y1="564.46" x2="365.10" y2="584.17" stroke="#7fbf7b" stroke-width="0.8" />
<line x1="363.00" y1="564.46" x2="367.20" y2="564.46" stroke="#7fbf7b" stroke-width="0.8" />
<line x1="363.00" y1="584.17" x2="367.20" y2="584.17" stroke="#7fbf7b" stroke-width="0.8" />
<line x1="377.70" y1="554.44" x2="377.70" y2="580.16" stroke="#7fbf7b" stroke-width="0.8" />
<line x1="375.60" y1="554.44" x2="379.80" y2="554.44" stroke="#7fbf7b" stroke-width="0.8" />
<line x1="375.60" y1="580.16" x2="379.80" y2="580.16" stroke="#7fbf7b" stroke-width="0.8" />
<line x1="384.00" y1="550.10" x2="384.00" y2="581.50" stroke="#7fbf7b" stroke-width="0.8" />
<line x1="381.90" y1="550.10" x2="386.10" y2="550.10" stroke="#7fbf7b" stroke-width="0.8" />
<line x1="381.90" y1="581.50" x2="386.10" y2="581.50" stroke="#7fbf7b" stroke-width="0.8" />
<line x1="390.30" y1="545.09" x2="390.30" y2="582.16" stroke="#7fbf7b" stroke-width="0.8" />
<line x1="388.20" y1="545.09" x2="392.40" y2="545.09" stroke="#7fbf7b" stroke-width="0.8" />
<line x1="388.20" y1="582.16" x2="392.40" y2="582.16" stroke="#7fbf7b" stroke-width="0.8" />
<polyline points="302.10,586.84 321.00,577.15 333.60,566.47 346.20,555.11" fill="none" stroke="#5db65a" stroke-width="1.0" stroke-linejoin="miter" stroke-linecap="square"/>
<polyline points="302.10,586.84 321.00,581.50 333.60,578.16 346.20,573.15 365.10,573.81 377.70,567.13 384.00,565.46 390.30,563.79" fill="none" stroke="#5db65a" stroke-width="1.0" stroke-linejoin="miter" stroke-linecap="square"/>
<circle cx="302.10" cy="586.84" r="1.60" fill="#2e8f2e"/>
<circle cx="321.00" cy="577.15" r="1.60" fill="#2e8f2e"/>
<circle cx="333.60" cy="566.47" r="1.60" fill="#2e8f2e"/>
<circle cx="346.20" cy="555.11" r="1.60" fill="#2e8f2e"/>
<circle cx="302.10" cy="586.84" r="1.95" fill="#2e8f2e"/>
<circle cx="321.00" cy="581.50" r="1.95" fill="#2e8f2e"/>
<circle cx="333.60" cy="578.16" r="1.95" fill="#2e8f2e"/>
<circle cx="346.20" cy="573.15" r="1.95" fill="#2e8f2e"/>
<circle cx="365.10" cy="573.81" r="1.95" fill="#2e8f2e"/>
<circle cx="377.70" cy="567.13" r="1.95" fill="#2e8f2e"/>
<circle cx="384.00" cy="565.46" r="1.95" fill="#2e8f2e"/>
<circle cx="390.30" cy="563.79" r="1.95" fill="#2e8f2e"/>
<line x1="302.50" y1="514.20" x2="302.50" y2="601.10" stroke="#1e1e1e" stroke-width="1.2" />
<line x1="301.90" y1="600.50" x2="430.00" y2="600.50" stroke="#1e1e1e" stroke-width="1.2" />
<line x1="299.70" y1="600.50" x2="302.50" y2="600.50" stroke="#1e1e1e" stroke-width="1" />
<text x="296.50" y="602.50" font-size="7.9" text-anchor="end" fill="#1e1e1e" font-weight="normal" stroke="#1e1e1e" stroke-width="0.2" >0</text>
<line x1="299.70" y1="583.50" x2="302.50" y2="583.50" stroke="#1e1e1e" stroke-width="1" />
<text x="296.50" y="585.80" font-size="7.9" text-anchor="end" fill="#1e1e1e" font-weight="normal" stroke="#1e1e1e" stroke-width="0.2" >50</text>
<line x1="299.70" y1="566.50" x2="302.50" y2="566.50" stroke="#1e1e1e" stroke-width="1" />
<text x="296.50" y="569.10" font-size="7.9" text-anchor="end" fill="#1e1e1e" font-weight="normal" stroke="#1e1e1e" stroke-width="0.2" >100</text>
<line x1="299.70" y1="550.50" x2="302.50" y2="550.50" stroke="#1e1e1e" stroke-width="1" />
<text x="296.50" y="552.40" font-size="7.9" text-anchor="end" fill="#1e1e1e" font-weight="normal" stroke="#1e1e1e" stroke-width="0.2" >150</text>
<line x1="299.70" y1="533.50" x2="302.50" y2="533.50" stroke="#1e1e1e" stroke-width="1" />
<text x="296.50" y="535.70" font-size="7.9" text-anchor="end" fill="#1e1e1e" font-weight="normal" stroke="#1e1e1e" stroke-width="0.2" >200</text>
<line x1="299.70" y1="516.50" x2="302.50" y2="516.50" stroke="#1e1e1e" stroke-width="1" />
<text x="296.50" y="519.00" font-size="7.9" text-anchor="end" fill="#1e1e1e" font-weight="normal" stroke="#1e1e1e" stroke-width="0.2" >250</text>
<line x1="302.50" y1="600.50" x2="302.50" y2="603.50" stroke="#1e1e1e" stroke-width="1" />
<text x="302.10" y="612.40" font-size="7.9" text-anchor="middle" fill="#1e1e1e" font-weight="normal" stroke="#1e1e1e" stroke-width="0.2" >0</text>
<line x1="333.50" y1="600.50" x2="333.50" y2="603.50" stroke="#1e1e1e" stroke-width="1" />
<text x="333.60" y="612.40" font-size="7.9" text-anchor="middle" fill="#1e1e1e" font-weight="normal" stroke="#1e1e1e" stroke-width="0.2" >5</text>
<line x1="365.50" y1="600.50" x2="365.50" y2="603.50" stroke="#1e1e1e" stroke-width="1" />
<text x="365.10" y="612.40" font-size="7.9" text-anchor="middle" fill="#1e1e1e" font-weight="normal" stroke="#1e1e1e" stroke-width="0.2" >10</text>
<line x1="396.50" y1="600.50" x2="396.50" y2="603.50" stroke="#1e1e1e" stroke-width="1" />
<text x="396.60" y="612.40" font-size="7.9" text-anchor="middle" fill="#1e1e1e" font-weight="normal" stroke="#1e1e1e" stroke-width="0.2" >15</text>
<line x1="428.50" y1="600.50" x2="428.50" y2="603.50" stroke="#1e1e1e" stroke-width="1" />
<text x="428.10" y="612.40" font-size="7.9" text-anchor="middle" fill="#1e1e1e" font-weight="normal" stroke="#1e1e1e" stroke-width="0.2" >20</text>
<text transform="translate(278.40,556.30) rotate(-90)" font-size="8.4" text-anchor="middle" fill="#1e1e1e" stroke="#1e1e1e" stroke-width="0.25" textLength="56.0" lengthAdjust="spacingAndGlyphs">Tumor area (mm<tspan font-size="5.6" dy="-3">2</tspan><tspan dy="3">)</tspan></text>
<text x="366.00" y="625.50" font-size="8.6" text-anchor="middle" fill="#1e1e1e" stroke="#1e1e1e" stroke-width="0.12" textLength="75" lengthAdjust="spacingAndGlyphs">Days after start of therapy</text>
<text x="346.00" y="538.30" font-size="7.2" text-anchor="middle" fill="#111" font-weight="normal"  stroke="#111" stroke-width="0.12">*</text>
<line x1="435.00" y1="557.00" x2="445.40" y2="557.00" stroke="#7cc27a" stroke-width="0.8" />
<circle cx="440" cy="557" r="1.3" fill="#1f6e1f"/>
<text x="448.20" y="559.70" font-size="6.8" text-anchor="start" fill="#333" font-weight="normal"  >Bortezomib</text>
<line x1="435.00" y1="568.00" x2="445.40" y2="568.00" stroke="#7cc27a" stroke-width="0.8" />
<circle cx="440" cy="568" r="1.6" fill="#1f6e1f"/>
<text x="448.20" y="570.70" font-size="6.8" text-anchor="start" fill="#333" font-weight="normal"  >Bortezomib</text>
<text x="448.70" y="579.60" font-size="6.8" text-anchor="start" fill="#333" font-weight="normal"  >+ Enitociclib</text>
<rect x="1.5" y="1.5" width="517" height="631" fill="none" stroke="#d8d8d8" stroke-width="1"/>
<rect x="0.5" y="0.5" width="519" height="633" fill="none" stroke="#585858" stroke-width="1"/>
</svg></body></html>
